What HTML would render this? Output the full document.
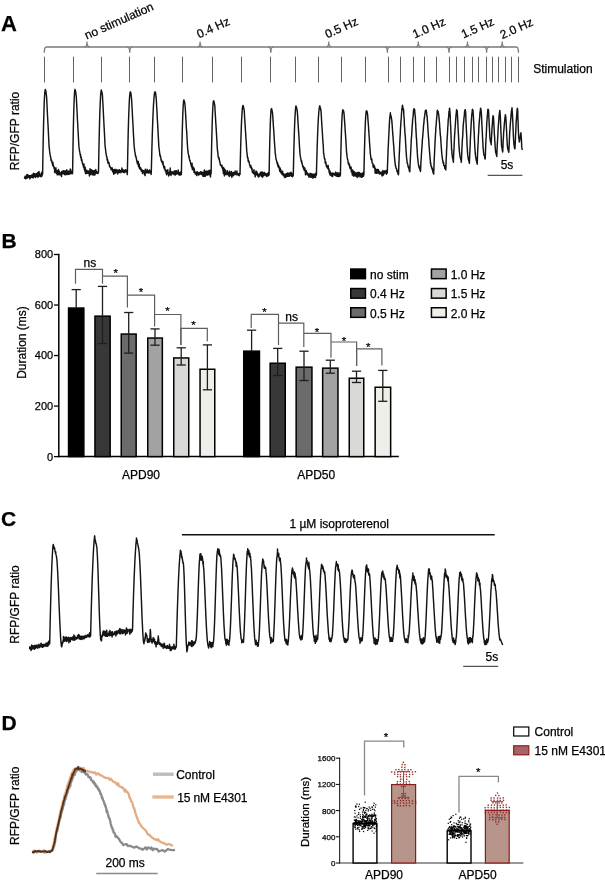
<!DOCTYPE html>
<html><head><meta charset="utf-8"><title>Figure</title>
<style>
html,body{margin:0;padding:0;background:#fff;}
body{width:605px;height:881px;overflow:hidden;}
svg{display:block;font-family:"Liberation Sans", sans-serif;will-change:transform;}
text{stroke:currentColor;stroke-width:0.25px;paint-order:stroke;}
</style></head><body>
<svg width="605" height="881" viewBox="0 0 605 881">
<text x="1" y="31.1" font-size="22" text-anchor="start" font-weight="bold" fill="#000">A</text>
<path d="M44.2 52.8 C44.3 49 44.8 47 46.3 47 L516.6 47 C518 47 518.4 49 518.5 52.8" fill="none" stroke="#7a7a7a" stroke-width="1.3"/>
<path d="M129.7 52.6 C129.7 49 129.4 47.2 127.2 47" fill="none" stroke="#7a7a7a" stroke-width="1.2"/>
<path d="M129.7 52.6 C129.7 49 130 47.2 132.2 47" fill="none" stroke="#7a7a7a" stroke-width="1.2"/>
<path d="M270.8 52.6 C270.8 49 270.5 47.2 268.3 47" fill="none" stroke="#7a7a7a" stroke-width="1.2"/>
<path d="M270.8 52.6 C270.8 49 271.1 47.2 273.3 47" fill="none" stroke="#7a7a7a" stroke-width="1.2"/>
<path d="M387.4 52.6 C387.4 49 387.1 47.2 384.9 47" fill="none" stroke="#7a7a7a" stroke-width="1.2"/>
<path d="M387.4 52.6 C387.4 49 387.7 47.2 389.9 47" fill="none" stroke="#7a7a7a" stroke-width="1.2"/>
<path d="M449 52.6 C449 49 448.7 47.2 446.5 47" fill="none" stroke="#7a7a7a" stroke-width="1.2"/>
<path d="M449 52.6 C449 49 449.3 47.2 451.5 47" fill="none" stroke="#7a7a7a" stroke-width="1.2"/>
<path d="M486.6 52.6 C486.6 49 486.3 47.2 484.1 47" fill="none" stroke="#7a7a7a" stroke-width="1.2"/>
<path d="M486.6 52.6 C486.6 49 486.9 47.2 489.1 47" fill="none" stroke="#7a7a7a" stroke-width="1.2"/>
<path d="M87 41.6 C87 45 86.7 46.8 84.5 47 M87 41.6 C87 45 87.3 46.8 89.5 47" fill="none" stroke="#7a7a7a" stroke-width="1.2"/>
<path d="M200.1 41.6 C200.1 45 199.8 46.8 197.6 47 M200.1 41.6 C200.1 45 200.4 46.8 202.6 47" fill="none" stroke="#7a7a7a" stroke-width="1.2"/>
<path d="M328.8 41.6 C328.8 45 328.5 46.8 326.3 47 M328.8 41.6 C328.8 45 329.1 46.8 331.3 47" fill="none" stroke="#7a7a7a" stroke-width="1.2"/>
<path d="M418.3 41.6 C418.3 45 418 46.8 415.8 47 M418.3 41.6 C418.3 45 418.6 46.8 420.8 47" fill="none" stroke="#7a7a7a" stroke-width="1.2"/>
<path d="M467.5 41.6 C467.5 45 467.2 46.8 465 47 M467.5 41.6 C467.5 45 467.8 46.8 470 47" fill="none" stroke="#7a7a7a" stroke-width="1.2"/>
<path d="M502.2 41.6 C502.2 45 501.9 46.8 499.7 47 M502.2 41.6 C502.2 45 502.5 46.8 504.7 47" fill="none" stroke="#7a7a7a" stroke-width="1.2"/>
<line x1="44.5" y1="56.7" x2="44.5" y2="82.4" stroke="#626262" stroke-width="1"/>
<line x1="73.5" y1="56.7" x2="73.5" y2="82.4" stroke="#626262" stroke-width="1"/>
<line x1="101.5" y1="56.7" x2="101.5" y2="82.4" stroke="#626262" stroke-width="1"/>
<line x1="129.5" y1="56.7" x2="129.5" y2="82.4" stroke="#626262" stroke-width="1"/>
<line x1="154.5" y1="56.7" x2="154.5" y2="82.4" stroke="#626262" stroke-width="1"/>
<line x1="182.5" y1="56.7" x2="182.5" y2="82.4" stroke="#626262" stroke-width="1"/>
<line x1="212.5" y1="56.7" x2="212.5" y2="82.4" stroke="#626262" stroke-width="1"/>
<line x1="241.5" y1="56.7" x2="241.5" y2="82.4" stroke="#626262" stroke-width="1"/>
<line x1="270.5" y1="56.7" x2="270.5" y2="82.4" stroke="#626262" stroke-width="1"/>
<line x1="295.5" y1="56.7" x2="295.5" y2="82.4" stroke="#626262" stroke-width="1"/>
<line x1="318.5" y1="56.7" x2="318.5" y2="82.4" stroke="#626262" stroke-width="1"/>
<line x1="341.5" y1="56.7" x2="341.5" y2="82.4" stroke="#626262" stroke-width="1"/>
<line x1="365.5" y1="56.7" x2="365.5" y2="82.4" stroke="#626262" stroke-width="1"/>
<line x1="388.5" y1="56.7" x2="388.5" y2="82.4" stroke="#626262" stroke-width="1"/>
<line x1="400.5" y1="56.7" x2="400.5" y2="82.4" stroke="#626262" stroke-width="1"/>
<line x1="413.5" y1="56.7" x2="413.5" y2="82.4" stroke="#626262" stroke-width="1"/>
<line x1="424.5" y1="56.7" x2="424.5" y2="82.4" stroke="#626262" stroke-width="1"/>
<line x1="436.5" y1="56.7" x2="436.5" y2="82.4" stroke="#626262" stroke-width="1"/>
<line x1="449.5" y1="56.7" x2="449.5" y2="82.4" stroke="#626262" stroke-width="1"/>
<line x1="456.5" y1="56.7" x2="456.5" y2="82.4" stroke="#626262" stroke-width="1"/>
<line x1="464.5" y1="56.7" x2="464.5" y2="82.4" stroke="#626262" stroke-width="1"/>
<line x1="472.5" y1="56.7" x2="472.5" y2="82.4" stroke="#626262" stroke-width="1"/>
<line x1="478.5" y1="56.7" x2="478.5" y2="82.4" stroke="#626262" stroke-width="1"/>
<line x1="486.5" y1="56.7" x2="486.5" y2="82.4" stroke="#626262" stroke-width="1"/>
<line x1="492.5" y1="56.7" x2="492.5" y2="82.4" stroke="#626262" stroke-width="1"/>
<line x1="498.5" y1="56.7" x2="498.5" y2="82.4" stroke="#626262" stroke-width="1"/>
<line x1="505.5" y1="56.7" x2="505.5" y2="82.4" stroke="#626262" stroke-width="1"/>
<line x1="511.5" y1="56.7" x2="511.5" y2="82.4" stroke="#626262" stroke-width="1"/>
<line x1="518.5" y1="56.7" x2="518.5" y2="82.4" stroke="#626262" stroke-width="1"/>
<text x="86.8" y="39.6" font-size="12" text-anchor="start" font-weight="normal" fill="#000" transform="rotate(-24 86.8 39.6)">no stimulation</text>
<text x="199" y="38.4" font-size="12" text-anchor="start" font-weight="normal" fill="#000" transform="rotate(-24 199 38.4)">0.4 Hz</text>
<text x="327.2" y="38.4" font-size="12" text-anchor="start" font-weight="normal" fill="#000" transform="rotate(-24 327.2 38.4)">0.5 Hz</text>
<text x="414.8" y="38.6" font-size="12" text-anchor="start" font-weight="normal" fill="#000" transform="rotate(-24 414.8 38.6)">1.0 Hz</text>
<text x="463.4" y="38.6" font-size="12" text-anchor="start" font-weight="normal" fill="#000" transform="rotate(-24 463.4 38.6)">1.5 Hz</text>
<text x="502.3" y="39.2" font-size="12" text-anchor="start" font-weight="normal" fill="#000" transform="rotate(-24 502.3 39.2)">2.0 Hz</text>
<text x="533.2" y="72.9" font-size="12" text-anchor="start" font-weight="normal" fill="#000">Stimulation</text>
<text x="19.4" y="131" font-size="12" text-anchor="middle" font-weight="normal" fill="#000" transform="rotate(-90 19.4 131)">RFP/GFP ratio</text>
<path d="M24.4 177.15L24.6 178.16L24.8 177.12L25 176.97L25.2 176.1L25.4 177.04L25.6 178.79L25.8 177.83L26 178.62L26.2 177.52L26.4 177.68L26.6 177.36L26.8 174.83L27 178.2L27.2 177.69L27.4 177.65L27.6 174.65L27.8 174.55L28 175.67L28.2 176.2L28.4 177.21L28.6 176.7L28.8 177.43L29 175.82L29.2 177.07L29.4 177.15L29.6 175.69L29.8 178.87L30 177.27L30.2 178.1L30.4 175.61L30.6 175.41L30.8 175.91L31 176.2L31.2 177.16L31.4 176.6L31.6 175.63L31.8 174.91L32 175.46L32.2 177.78L32.4 175L32.6 176.39L32.8 176.6L33 173.98L33.2 176.02L33.4 177.68L33.6 173.16L33.8 175.41L34 175.67L34.2 174.67L34.4 176.41L34.6 175.62L34.8 173.69L35 176.75L35.2 176.5L35.4 176.84L35.6 177.48L35.8 175.98L36 175.62L36.2 173.67L36.4 176.22L36.6 174.53L36.8 174.71L37 173.58L37.2 173.94L37.4 174.5L37.6 176.92L37.8 172.4L38 173.14L38.2 175.4L38.4 176.99L38.6 175.78L38.8 172.4L39 171.53L39.2 175.38L39.4 173.87L39.6 173.32L39.8 176.11L40 176.24L40.2 174.93L40.4 175.02L40.6 175.24L40.8 176.77L41 175.42L41.2 175.25L41.4 175.25L41.6 172.36L41.8 176.17L42 175.69L42.2 175.09L42.4 171.67L42.6 174.14L42.8 162.43L43 150.61L43.2 140.79L43.4 131.8L43.6 122.85L43.8 116.14L44 109.37L44.2 103.62L44.4 99.09L44.6 95.46L44.8 92.53L45 90.93L45.2 89.55L45.3 89.43L45.5 90.55L45.7 90.69L45.9 90.86L46.1 93.04L46.3 94.86L46.5 95.71L46.7 98.63L46.9 103.16L47.1 107.17L47.3 111.14L47.5 115.74L47.7 118.58L47.9 123.31L48.1 126.12L48.3 130.18L48.5 134.76L48.7 138.97L48.9 142.87L49.1 146.45L49.3 148.17L49.5 149.97L49.7 151.93L49.9 153.34L50.1 154.72L50.3 155.86L50.5 156.23L50.7 157.79L50.9 158.47L51.1 160.56L51.3 159.83L51.5 159.94L51.7 160.78L51.9 161.89L52.1 163.52L52.3 162.88L52.5 163.98L52.7 165.74L52.9 162.23L53.1 163.98L53.3 165.77L53.5 166.48L53.7 166.81L53.9 166.44L54.1 168.45L54.3 168.48L54.5 167.93L54.7 172.45L54.9 170.08L55.1 169.23L55.3 170.23L55.5 170.44L55.7 171.04L55.9 167.83L56.1 171.14L56.3 173.32L56.5 170.54L56.7 172.19L56.9 173.72L57.1 173.75L57.3 174.77L57.5 170.62L57.7 172.6L57.9 172.78L58.1 174.06L58.3 174.68L58.5 169.57L58.7 174.64L58.9 171.2L59.1 174.06L59.3 171.11L59.5 173.34L59.7 174.7L59.9 172.87L60.1 173.31L60.3 174.11L60.5 173.21L60.7 172.88L60.9 175.06L61.1 174.38L61.3 172.56L61.5 176.64L61.7 171.37L61.9 174.14L62.1 172.53L62.3 173.05L62.5 173.8L62.7 173.13L62.9 173.68L63.1 170.74L63.3 170.75L63.5 173.6L63.7 171.45L63.9 171.35L64.1 170.73L64.3 174.41L64.5 173.69L64.7 174.65L64.9 171.38L65.1 172.63L65.3 171.08L65.5 173.63L65.7 174.73L65.9 171.36L66.1 174.65L66.3 173.86L66.5 172.27L66.7 169.83L66.9 174.38L67.1 172.33L67.3 171.63L67.5 172.97L67.7 172.97L67.9 174.42L68.1 171L68.3 173.9L68.5 174.35L68.7 174.29L68.9 172.07L69.1 171.29L69.3 173.65L69.5 172.42L69.7 172.41L69.9 174.15L70.1 171.85L70.3 169.09L70.5 171.65L70.7 169.66L70.9 173.25L71.1 172.55L71.3 171.28L71.5 172.08L71.7 173.2L71.9 172.17L72.1 173.83L72.3 171.94L72.5 173.41L72.6 172.37L72.8 159.24L73 146.65L73.2 136.17L73.4 125.75L73.6 117.37L73.8 109.71L74 104.17L74.2 98.45L74.4 94.75L74.6 91.84L74.8 90.17L75 89.36L75.2 90.22L75.4 91.36L75.6 91.19L75.8 92.8L76 94.55L76.2 95.64L76.4 98.44L76.6 102.65L76.8 107.22L77 110.06L77.2 114.31L77.4 118.68L77.6 122.33L77.8 125.75L78 129.86L78.2 133.53L78.4 136.92L78.6 140.7L78.8 144.78L79 147.18L79.2 148.35L79.4 149.99L79.6 151.43L79.8 151.71L80 153.86L80.2 153.78L80.4 156.04L80.6 154.45L80.8 157.66L81 157.58L81.2 157.2L81.4 160.39L81.6 160.28L81.8 159.31L82 161.03L82.2 162.54L82.4 162.33L82.6 163.91L82.8 164.34L83 165.03L83.2 165.08L83.4 166.99L83.6 166.63L83.8 166.9L84 164.02L84.2 168.6L84.4 169.7L84.6 167.97L84.8 168.13L85 171.78L85.2 167.19L85.4 170.59L85.6 173.63L85.8 169.4L86 171.77L86.2 173.56L86.4 171.03L86.6 172.13L86.8 172.77L87 170.51L87.2 171.79L87.4 172.48L87.6 173.38L87.8 172.23L88 172.01L88.2 170.91L88.4 171.8L88.6 173.49L88.8 172.43L89 171.15L89.2 171.17L89.4 175.91L89.6 173.85L89.8 173.18L90 168.82L90.2 173.16L90.4 172.98L90.6 174.61L90.8 172.91L91 172.25L91.2 173.05L91.4 169.72L91.6 173.75L91.8 172.8L92 171.41L92.2 174.16L92.4 174.81L92.6 170.48L92.8 171.48L93 172.78L93.2 172.63L93.4 171.85L93.6 171.08L93.8 175.26L94 173.8L94.2 170.8L94.4 170.6L94.6 174.72L94.8 173.76L95 174.88L95.2 173.52L95.4 171.26L95.6 172.79L95.8 169.53L96 171.44L96.2 172.37L96.4 173.16L96.6 171.48L96.8 172.3L97 173.09L97.2 172.98L97.4 173.34L97.6 172.76L97.8 172.05L98 173.55L98.2 172.56L98.4 171.38L98.5 172.34L98.7 161.23L98.9 150.77L99.1 141.24L99.3 132.43L99.5 124.55L99.7 117.38L99.9 110.84L100.1 105.83L100.3 101.4L100.5 97.49L100.7 94.41L100.9 92.48L101.1 90.88L101.3 89.94L101.5 91.24L101.7 91.37L101.9 92.55L102.1 93.23L102.3 94.16L102.5 96.36L102.7 100.6L102.9 103.7L103.1 107.2L103.3 111.33L103.5 115.64L103.7 119.32L103.9 122.89L104.1 127.1L104.3 130.54L104.5 134.14L104.7 138.27L104.9 142.58L105.1 145.97L105.3 147.74L105.5 148.64L105.7 150.76L105.9 153.22L106.1 153.24L106.3 155.33L106.5 155.76L106.7 156.9L106.9 156.73L107.1 159.98L107.3 159.58L107.5 159.04L107.7 160.08L107.9 163.11L108.1 161.23L108.3 162.82L108.5 163.36L108.7 162.93L108.9 162.32L109.1 163.98L109.3 164.74L109.5 166.28L109.7 166.34L109.9 165.85L110.1 167.5L110.3 167.6L110.5 167.68L110.7 168.01L110.9 168.02L111.1 169.66L111.3 167.69L111.5 168.64L111.7 169.88L111.9 168.28L112.1 169.95L112.3 167.99L112.5 169.94L112.7 171.8L112.9 171.96L113.1 171.29L113.3 171.21L113.5 169.78L113.7 174.32L113.9 172.71L114.1 173.49L114.3 170.81L114.5 171.74L114.7 169.53L114.9 173.03L115.1 173.23L115.3 169.4L115.5 171.89L115.7 172.8L115.9 169.56L116.1 169.47L116.3 170.49L116.5 171.07L116.7 170.02L116.9 171.94L117.1 172.23L117.3 172.74L117.5 172.83L117.7 173.9L117.9 173.44L118.1 170.09L118.3 171.17L118.5 170.41L118.7 170.38L118.9 171.72L119.1 171.83L119.3 172.47L119.5 169.66L119.7 170.12L119.9 171.76L120.1 171.51L120.3 171.35L120.5 171.68L120.7 170.73L120.9 172.7L121.1 172.22L121.3 171.62L121.5 170.82L121.7 171.48L121.9 168.04L122.1 170.38L122.3 171.75L122.5 169.66L122.7 171.95L122.9 171.87L123.1 169.81L123.3 171.32L123.5 171.23L123.7 172.26L123.9 172.46L124.1 171.58L124.3 170.47L124.5 171.42L124.7 171.52L124.9 172.59L125.1 171.99L125.3 170.61L125.5 169.74L125.7 171.06L125.9 170.56L126.1 170.05L126.3 171.39L126.5 170.87L126.7 171.67L126.9 172.23L127.1 170.95L127.3 174.64L127.4 171.42L127.6 161.17L127.8 151.09L128 142.25L128.2 133.05L128.4 125.88L128.6 119.32L128.8 113.35L129 108.48L129.2 103.43L129.4 99.89L129.6 96.73L129.8 94.5L130 92.88L130.2 91.96L130.3 92.1L130.5 91.97L130.7 93.38L130.9 93.01L131.1 94.88L131.3 97.15L131.5 97.73L131.7 100.93L131.9 105.18L132.1 108.52L132.3 111.98L132.5 116.11L132.7 119.84L132.9 123.5L133.1 126.51L133.3 131.18L133.5 134.95L133.7 138.08L133.9 141.98L134.1 145.29L134.3 147.74L134.5 148.6L134.7 150.87L134.9 151.88L135.1 152.62L135.3 154.74L135.5 156.14L135.7 155.77L135.9 156.01L136.1 158.11L136.3 158.1L136.5 159.19L136.7 161.04L136.9 161.45L137.1 160.73L137.3 163.74L137.5 162.14L137.7 163.29L137.9 162.44L138.1 163.43L138.3 161.56L138.5 166.83L138.7 166.79L138.9 163.84L139.1 163.98L139.3 164.35L139.5 168.66L139.7 166.98L139.9 167.94L140.1 167.98L140.3 168.63L140.5 167.71L140.7 169.59L140.9 168L141.1 170.14L141.3 170.83L141.5 171.21L141.7 170.44L141.9 169.71L142.1 171.32L142.3 170.62L142.5 173.57L142.7 172.66L142.9 171.64L143.1 171.17L143.3 170.86L143.5 170.55L143.7 171.34L143.9 172.22L144.1 172.52L144.3 172.6L144.5 174.67L144.7 170.89L144.9 171.87L145.1 175.63L145.3 169.34L145.5 171.16L145.7 172.1L145.9 172.08L146.1 172.43L146.3 171.56L146.5 172.38L146.7 171.96L146.9 172.94L147.1 169.35L147.3 170.71L147.5 171.91L147.7 170.52L147.9 170.51L148.1 172.77L148.3 171.05L148.5 172.79L148.7 172.94L148.9 172.36L149.1 172.63L149.3 171.81L149.5 170.05L149.7 171.92L149.9 172.58L150.1 171.26L150.3 171.84L150.5 172.99L150.7 170.8L150.9 172.85L151.1 174.51L151.3 171.25L151.3 172.04L151.5 163.54L151.7 156L151.9 148.21L152.1 141.33L152.3 134.38L152.5 128.46L152.7 122.85L152.9 117.26L153.1 113.38L153.3 109.03L153.5 104.63L153.7 101.97L153.9 98.95L154.1 96.75L154.3 94.86L154.5 92.99L154.7 92.37L154.9 92.33L155 91.67L155.2 92L155.4 92.37L155.6 92.94L155.8 94.93L156 97L156.2 98.03L156.4 101.08L156.6 105.7L156.8 108.41L157 112.17L157.2 116.38L157.4 120.01L157.6 123.02L157.8 126.59L158 130.86L158.2 134.67L158.4 137.87L158.6 142.14L158.8 145.62L159 147.74L159.2 149.24L159.4 150.98L159.6 152.42L159.8 154.63L160 155.79L160.2 155.06L160.4 157.01L160.6 156.4L160.8 157.92L161 159.3L161.2 160.76L161.4 159.83L161.6 160.88L161.8 161.89L162 160.86L162.2 162.68L162.4 162.51L162.6 163.9L162.8 163L163 161.81L163.2 165.03L163.4 165.87L163.6 165.31L163.8 167.79L164 166.76L164.2 166.85L164.4 168.85L164.6 166.51L164.8 168.1L165 169.38L165.2 170.95L165.4 169.97L165.6 171L165.8 169.99L166 171.46L166.2 173.48L166.4 170.48L166.6 174.78L166.8 170.9L167 171.97L167.2 172.36L167.4 173.68L167.6 170.81L167.8 169.65L168 173.31L168.2 173.57L168.4 173.35L168.6 176.07L168.8 172.8L169 172.87L169.2 173.79L169.4 173.04L169.6 174.8L169.8 170.89L170 172.06L170.2 167.93L170.4 173.68L170.6 172.09L170.8 173.85L171 175.51L171.2 172.61L171.4 172.28L171.6 171.95L171.8 171.51L172 171.79L172.2 173.51L172.4 172.71L172.6 172.76L172.8 172.44L173 173.92L173.2 173.36L173.4 172.51L173.6 173.6L173.8 172.51L174 171.16L174.2 174.69L174.4 173.36L174.6 171.45L174.8 174.21L175 173.22L175.2 170.65L175.4 174.95L175.6 173.23L175.8 173.99L176 173.06L176.2 172.6L176.4 170.72L176.6 174.13L176.8 172.87L177 172.45L177.2 173.31L177.4 172.95L177.6 173.77L177.8 172.36L178 172.82L178.2 169.99L178.4 172.31L178.6 173.81L178.8 174.71L179 172.42L179.2 172.75L179.4 175.06L179.6 172.49L179.8 173.93L180 175.21L180.2 173.01L180.4 174.62L180.6 172.01L180.8 173.26L181 172.88L181.2 173.15L181.4 174.53L181.4 173.6L181.6 161.65L181.8 151.42L182 142.37L182.2 133.6L182.4 126.53L182.6 120.03L182.8 114.22L183 109.77L183.2 105.52L183.4 103.3L183.6 100.86L183.8 100.14L183.9 99.98L184.1 100.5L184.3 101.47L184.5 101.62L184.7 102.68L184.9 104.44L185.1 106.24L185.3 108.46L185.5 112.07L185.7 115.89L185.9 118.97L186.1 121.73L186.3 126.54L186.5 129.72L186.7 131.34L186.9 135.47L187.1 139.12L187.3 142.81L187.5 146.17L187.7 149.07L187.9 150.32L188.1 152.35L188.3 154.28L188.5 154.46L188.7 155.36L188.9 157.04L189.1 156.09L189.3 158.38L189.5 158.98L189.7 160.48L189.9 160.14L190.1 160.67L190.3 161.81L190.5 162.82L190.7 162.96L190.9 164.01L191.1 165.09L191.3 165.89L191.5 166.76L191.7 164.93L191.9 165.48L192.1 163.15L192.3 169.55L192.5 166.49L192.7 167.91L192.9 169.14L193.1 167.09L193.3 170.03L193.5 169.75L193.7 167.67L193.9 170.88L194.1 172.45L194.3 168.67L194.5 172.63L194.7 172.09L194.9 172.61L195.1 172.72L195.3 174.04L195.5 172.14L195.7 173.78L195.9 172.2L196.1 173.9L196.3 171.97L196.5 173.09L196.7 175.57L196.9 173.84L197.1 173.03L197.3 171.7L197.5 172.18L197.7 173.52L197.9 174.53L198.1 173.84L198.3 173.97L198.5 173.21L198.7 175.1L198.9 172.75L199.1 172.54L199.3 174.48L199.5 173.37L199.7 172.91L199.9 172.52L200.1 172.95L200.3 174.14L200.5 173.78L200.7 171.68L200.9 173.89L201.1 173.56L201.3 171.97L201.5 174.37L201.7 172.95L201.9 172.88L202.1 174.41L202.3 175.12L202.5 172.41L202.7 173.94L202.9 172.17L203.1 176.48L203.3 172.69L203.5 174.97L203.7 172.49L203.9 174.46L204.1 176.37L204.3 169.94L204.5 172.79L204.7 174.06L204.9 173.26L205.1 172.49L205.3 176.3L205.5 173.5L205.7 171.18L205.9 174.56L206.1 171.08L206.3 174.97L206.5 172.64L206.7 173.61L206.9 175.13L207.1 173.59L207.3 171.55L207.5 171.14L207.7 175.03L207.9 174.44L208.1 172.34L208.3 174.61L208.5 174.12L208.7 174.33L208.9 170.41L209.1 173.06L209.3 174.68L209.5 174.46L209.7 174.66L209.9 170.16L210.1 173.71L210.3 174.15L210.5 176.93L210.7 172.21L210.9 173.05L211.1 173.55L211.1 173.72L211.3 162.21L211.5 152.35L211.7 142.55L211.9 134.43L212.1 126.78L212.3 120.42L212.5 114.62L212.7 109.74L212.9 106.68L213.1 103.69L213.3 101.61L213.5 100.87L213.6 101.1L213.8 100.77L214 101.58L214.2 102.3L214.4 103.55L214.6 104.59L214.8 105.27L215 109.45L215.2 112.55L215.4 115.9L215.6 119.25L215.8 122.85L216 125.87L216.2 128.93L216.4 132.34L216.6 135.74L216.8 139.21L217 142.46L217.2 146.65L217.4 149.16L217.6 151.51L217.8 152.4L218 154.51L218.2 157.17L218.4 156.97L218.6 156.91L218.8 158.38L219 159.25L219.2 158.31L219.4 160.03L219.6 161.42L219.8 161.55L220 162.74L220.2 164.02L220.4 164.75L220.6 165.32L220.8 165.44L221 165.06L221.2 165.71L221.4 165.9L221.6 166.13L221.8 166.76L222 165.16L222.2 167.52L222.4 168.42L222.6 167.62L222.8 169.39L223 170.6L223.2 170.07L223.4 173.45L223.6 167.48L223.8 171.07L224 169.23L224.2 173.37L224.4 175.9L224.6 169.09L224.8 172.8L225 173.49L225.2 172.54L225.4 173.85L225.6 170.24L225.8 174.57L226 174.08L226.2 173.77L226.4 172.95L226.6 174.61L226.8 173.09L227 174.06L227.2 173.07L227.4 170.73L227.6 173.72L227.8 174.04L228 174.79L228.2 172.59L228.4 173.74L228.6 174.62L228.8 173.98L229 175.47L229.2 176.48L229.4 172.57L229.6 171.21L229.8 174.96L230 175.88L230.2 175.06L230.4 174.92L230.6 172.99L230.8 172.86L231 175.03L231.2 172.6L231.4 171.39L231.6 172.49L231.8 177.21L232 176.45L232.2 172.93L232.4 172.87L232.6 174.17L232.8 172.85L233 175.64L233.2 173.77L233.4 172.41L233.6 175.65L233.8 173.1L234 174.19L234.2 173.87L234.4 173.47L234.6 174.34L234.8 172.97L235 171.42L235.2 170.93L235.4 172.2L235.6 172.89L235.8 173.89L236 174L236.2 174.68L236.4 174.09L236.6 172.86L236.8 172.98L237 171.08L237.2 173.72L237.4 174.61L237.6 174.67L237.8 173.79L238 173.73L238.2 175.23L238.4 173.99L238.6 174.97L238.8 174.76L239 174.27L239.2 175.75L239.4 173.22L239.6 173.51L239.8 172.91L240 172.92L240 174.39L240.2 165.62L240.4 156.98L240.6 149.52L240.8 142.68L241 136.2L241.2 130.53L241.4 124.74L241.6 120.34L241.8 116.66L242 113.56L242.2 110.49L242.4 108.12L242.6 106.73L242.8 105.74L243 105.39L243 106.2L243.2 105.78L243.4 106.48L243.6 107.77L243.8 108.55L244 109.51L244.2 110.44L244.4 113.52L244.6 117.26L244.8 120.12L245 123.64L245.2 126.35L245.4 129.62L245.6 132.43L245.8 135.78L246 139.27L246.2 141.44L246.4 145.25L246.6 148.64L246.8 151.4L247 152.97L247.2 154.88L247.4 156.83L247.6 158.07L247.8 158.6L248 157.64L248.2 161.5L248.4 160.56L248.6 161.17L248.8 160.85L249 162.47L249.2 162.19L249.4 163.89L249.6 164.9L249.8 165.17L250 165.81L250.2 165.18L250.4 167.61L250.6 166.12L250.8 165.46L251 167.23L251.2 166.87L251.4 167L251.6 168.34L251.8 169.66L252 168.13L252.2 170L252.4 172.56L252.6 171.92L252.8 171.12L253 171.83L253.2 171.83L253.4 172.26L253.6 173.64L253.8 172.78L254 169.8L254.2 173.17L254.4 172.15L254.6 174.38L254.8 172.82L255 173.99L255.2 176.88L255.4 172.68L255.6 172.72L255.8 172.34L256 171.02L256.2 171.72L256.4 174.75L256.6 173.4L256.8 171.74L257 172.27L257.2 175.11L257.4 173.23L257.6 173.78L257.8 174.73L258 176.12L258.2 176.91L258.4 175.69L258.6 174.49L258.8 174.55L259 176.74L259.2 176.24L259.4 173.89L259.6 174.94L259.8 174.71L260 174.4L260.2 173.65L260.4 172.54L260.6 173.62L260.8 172.26L261 176L261.2 175.07L261.4 172.72L261.6 176.24L261.8 175.56L262 171.79L262.2 176.85L262.4 175.47L262.6 177.16L262.8 172.72L263 175.1L263.2 174.96L263.4 174.66L263.6 174.63L263.8 175.82L264 172.38L264.2 172.73L264.4 172.53L264.6 173.66L264.8 173.6L265 174.92L265.2 174.79L265.4 174.47L265.6 173.52L265.8 173.84L266 175.73L266.2 175.48L266.4 174.58L266.6 174.02L266.8 176.55L267 173.66L267.2 175.34L267.4 176.02L267.6 174.11L267.8 175.59L268 172.97L268.2 175.85L268.4 174.76L268.6 172.35L268.8 175.4L269 173.29L269.1 174.82L269.3 163.42L269.5 153.63L269.7 144.81L269.9 136.72L270.1 129.92L270.3 123.77L270.5 119.11L270.7 114.98L270.9 112.05L271.1 109.33L271.3 109.31L271.4 108.91L271.6 108.6L271.8 109.77L272 110.34L272.2 111.7L272.4 112.09L272.6 114.39L272.8 116.27L273 120.42L273.2 122.53L273.4 125.99L273.6 128.62L273.8 131.29L274 135.15L274.2 138.05L274.4 141.32L274.6 144.17L274.8 146.73L275 149.43L275.2 152.79L275.4 154.19L275.6 155.55L275.8 157.52L276 158.99L276.2 159.22L276.4 160.32L276.6 160.73L276.8 161.75L277 162.93L277.2 163.74L277.4 162.89L277.6 162.78L277.8 166.05L278 165.5L278.2 167.02L278.4 164.95L278.6 166.5L278.8 167.19L279 166.24L279.2 167.44L279.4 169.26L279.6 170.14L279.8 171.28L280 168.4L280.2 168.11L280.4 171.14L280.6 172.15L280.8 171.58L281 169.91L281.2 173.04L281.4 173.37L281.6 173.36L281.8 172.28L282 173.66L282.2 174.56L282.4 172.88L282.6 171.29L282.8 174.37L283 174.72L283.2 174.23L283.4 175.56L283.6 173.71L283.8 174.53L284 174.38L284.2 175.56L284.4 176.95L284.6 174.46L284.8 177.58L285 176.87L285.2 175.88L285.4 175.61L285.6 177.21L285.8 174.59L286 174.68L286.2 173.4L286.4 175.48L286.6 176.66L286.8 175.57L287 175.43L287.2 174.59L287.4 175.09L287.6 172.95L287.8 176.29L288 174.33L288.2 173.39L288.4 173.87L288.6 173.78L288.8 176.05L289 176.33L289.2 173.07L289.4 176.16L289.6 176.11L289.8 174.14L290 172.92L290.2 173.92L290.4 174.08L290.6 175.4L290.8 174.46L291 172.21L291.2 175.27L291.4 172.89L291.6 176.18L291.8 173.34L292 174.03L292.2 173.82L292.4 174.25L292.6 176.74L292.8 176.14L293 175.81L293.2 175.43L293.3 174.61L293.5 165.39L293.7 156.61L293.9 148.43L294.1 141.43L294.3 134.45L294.5 128.49L294.7 123.14L294.9 118.32L295.1 115.12L295.3 112.15L295.5 109.4L295.7 107.36L295.9 105.87L296.1 106.24L296.1 106.69L296.3 106.76L296.5 107.44L296.7 108.1L296.9 109.14L297.1 109.82L297.3 111.73L297.5 114.31L297.7 116.66L297.9 120.39L298.1 123.26L298.3 126.98L298.5 130.36L298.7 132.82L298.9 135.54L299.1 140.04L299.3 142.95L299.5 146.66L299.7 148.82L299.9 152.87L300.1 154.75L300.3 156.19L300.5 156.78L300.7 158.58L300.9 159L301.1 160.77L301.3 161.53L301.5 161.41L301.7 160.82L301.9 163.36L302.1 162.93L302.3 164.57L302.5 164.9L302.7 166.78L302.9 167L303.1 165.98L303.3 167.09L303.5 168.74L303.7 167.05L303.9 168.31L304.1 169.91L304.3 170.42L304.5 169.88L304.7 167.85L304.9 168.38L305.1 170.87L305.3 171.52L305.5 174.89L305.7 170.64L305.9 173.67L306.1 173.5L306.3 170.53L306.5 172.01L306.7 173.67L306.9 173.02L307.1 173.63L307.3 174.62L307.5 173.03L307.7 174.9L307.9 173.56L308.1 173.83L308.3 175.43L308.5 174.08L308.7 175.39L308.9 177.16L309.1 175.04L309.3 174.8L309.5 175.99L309.7 174.51L309.9 176.46L310.1 173.27L310.3 175.84L310.5 174.31L310.7 173.92L310.9 177.39L311.1 173.85L311.3 177.37L311.5 175.89L311.7 176.96L311.9 173.68L312.1 176.62L312.3 176.97L312.5 174.84L312.7 174.83L312.9 178.32L313.1 175.24L313.3 174.43L313.5 174.15L313.7 175.6L313.9 175.45L314.1 175.24L314.3 177.32L314.5 174.56L314.7 175.64L314.9 176.97L315.1 173.64L315.3 176.4L315.5 177.47L315.7 173.17L315.9 173.52L316.1 173.6L316.3 172.51L316.4 175.11L316.6 166.7L316.8 159.93L317 153.29L317.2 146.11L317.4 140.5L317.6 134.64L317.8 130.33L318 125.44L318.2 121.53L318.4 118.04L318.6 115.08L318.8 112.25L319 110.2L319.2 108.4L319.4 107.38L319.6 106.34L319.8 106.42L319.8 105.63L320 106.64L320.2 108.04L320.4 107.74L320.6 108.38L320.8 110.29L321 111.11L321.2 113.51L321.4 117.15L321.6 121L321.8 124.13L322 127.12L322.2 129.89L322.4 132.93L322.6 137.01L322.8 139.72L323 142.51L323.2 145.31L323.4 148.87L323.6 153.5L323.8 153.52L324 155.42L324.2 157L324.4 158.25L324.6 158.94L324.8 158.68L325 159.7L325.2 162.89L325.4 161.4L325.6 163.49L325.8 161.86L326 163.79L326.2 164.93L326.4 166.28L326.6 164.99L326.8 166.95L327 167.14L327.2 166.51L327.4 167.99L327.6 167.13L327.8 167.25L328 168.72L328.2 165.53L328.4 169.5L328.6 168.75L328.8 168.58L329 170.43L329.2 172.49L329.4 171.27L329.6 173.85L329.8 170.9L330 171.02L330.2 175.22L330.4 173.99L330.6 174.97L330.8 172.72L331 175.07L331.2 174.48L331.4 175.15L331.6 174.45L331.8 176.19L332 173.83L332.2 173.55L332.4 173.01L332.6 176.57L332.8 174L333 173.59L333.2 173.73L333.4 174.4L333.6 173.28L333.8 174.61L334 174.15L334.2 174.26L334.4 173.7L334.6 175.05L334.8 174.38L335 175.16L335.2 175.34L335.4 175.46L335.6 172.04L335.8 174.28L336 173.93L336.2 176.05L336.4 172.87L336.6 174.04L336.8 174.6L337 174.55L337.2 176.34L337.4 174.4L337.6 176.3L337.8 173.02L338 172.55L338.2 176.65L338.4 175.59L338.6 175.66L338.8 175.17L339 175.65L339.2 173.36L339.4 176.28L339.6 174.28L339.8 176.33L340 175.12L340.2 172.34L340.4 173.26L340.4 175.28L340.6 164.89L340.8 155.59L341 147.35L341.2 139.63L341.4 132.88L341.6 127.16L341.8 122.14L342 118.28L342.2 114.55L342.4 112.49L342.6 110.8L342.8 109.93L342.9 109.82L343.1 109.87L343.3 110.29L343.5 110.59L343.7 111.48L343.9 113L344.1 114.02L344.3 117.49L344.5 120.17L344.7 122.9L344.9 125.44L345.1 129.23L345.3 132.05L345.5 134.75L345.7 137.7L345.9 140.27L346.1 144.52L346.3 147.39L346.5 151.57L346.7 153.48L346.9 154.84L347.1 156.88L347.3 157.76L347.5 159.27L347.7 159.55L347.9 160.03L348.1 162.62L348.3 162.86L348.5 164.19L348.7 162.96L348.9 163.92L349.1 163.73L349.3 166.01L349.5 164.52L349.7 166.9L349.9 167.78L350.1 168.43L350.3 166.67L350.5 168.86L350.7 167.61L350.9 167.59L351.1 167.23L351.3 171.01L351.5 172.11L351.7 169.51L351.9 169.72L352.1 170.72L352.3 175L352.5 173.31L352.7 171.53L352.9 170.16L353.1 171.98L353.3 174.81L353.5 176.04L353.7 173.39L353.9 172.96L354.1 173.34L354.3 171.62L354.5 175.53L354.7 172.98L354.9 176.02L355.1 172.42L355.3 173.15L355.5 175.39L355.7 173.97L355.9 176.05L356.1 175.01L356.3 173.41L356.5 175.84L356.7 176.14L356.9 172.42L357.1 177.47L357.3 175.67L357.5 176.03L357.7 172.49L357.9 174.03L358.1 174.53L358.3 176.45L358.5 173.03L358.7 173.81L358.9 172.26L359.1 174.67L359.3 175.47L359.5 172.72L359.7 174.2L359.9 175.69L360.1 177.14L360.3 175.9L360.5 174.59L360.7 173.41L360.9 173.74L361.1 174.1L361.3 175.2L361.5 174.93L361.7 177.25L361.9 175.39L362.1 173.55L362.3 177.08L362.5 176.28L362.7 175.14L362.9 174.03L363.1 172.47L363.3 173.62L363.5 176.23L363.7 173.92L363.9 173.22L363.9 175.05L364.1 165.53L364.3 156.86L364.5 148.87L364.7 141.82L364.9 134.78L365.1 129.52L365.3 124.07L365.5 120.3L365.7 116.74L365.9 114.09L366.1 112.37L366.3 110.98L366.5 110.88L366.5 110.95L366.7 111.06L366.9 111.19L367.1 111.52L367.3 112.72L367.5 114.07L367.7 115.36L367.9 119.07L368.1 121.18L368.3 124.29L368.5 126.68L368.7 129.71L368.9 132.75L369.1 135.84L369.3 138.24L369.5 142.22L369.7 144.38L369.9 148.07L370.1 149.73L370.3 153.51L370.5 154.98L370.7 156.29L370.9 157.8L371.1 159.16L371.3 159.77L371.5 158.57L371.7 160.29L371.9 159.47L372.1 162.78L372.3 163.07L372.5 163.2L372.7 163.22L372.9 164.02L373.1 166.78L373.3 167.26L373.5 166.01L373.7 167.54L373.9 165.28L374.1 165.3L374.3 166.93L374.5 166.51L374.7 167.3L374.9 168.7L375.1 172.92L375.3 168.33L375.5 169.68L375.7 170.37L375.9 170.34L376.1 171.95L376.3 173.36L376.5 169.56L376.7 171.72L376.9 171.42L377.1 172.53L377.3 170.18L377.5 169.98L377.7 169.33L377.9 173.27L378.1 172.92L378.3 172.87L378.5 169.68L378.7 172.47L378.9 172.06L379.1 171.27L379.3 171.92L379.5 174.07L379.7 173.83L379.9 173.04L380.1 173.73L380.3 172.19L380.5 173.08L380.7 173.01L380.9 173.67L381.1 172.8L381.3 172.67L381.5 172.65L381.7 171.94L381.9 175.79L382.1 173.44L382.3 173.3L382.5 175.79L382.7 174.56L382.9 170.53L383.1 173.54L383.3 173.71L383.5 175.09L383.7 174.3L383.9 173.53L384.1 170.87L384.3 171.26L384.5 172.77L384.7 173.06L384.9 170.97L385.1 171.8L385.3 171.75L385.5 172.34L385.7 172.68L385.9 171.81L386.1 170.5L386.3 173.82L386.5 174.27L386.7 171.94L386.9 173.44L387.1 172.63L387.3 172.89L387.3 172.36L387.5 165.37L387.7 160.62L387.9 155.49L388.1 148.92L388.3 146.22L388.5 141.77L388.7 137.34L388.9 133.53L389.1 128.97L389.3 124.84L389.5 121.62L389.7 118.75L389.9 117.03L390.1 114.81L390.2 114.4L390.4 112.75L390.6 116.37L390.8 116.71L391 115.47L391.2 117.1L391.4 118.05L391.6 119L391.8 120.29L392 123.11L392.2 125.33L392.4 128.83L392.6 131.43L392.8 134.41L393 136.14L393.2 139.42L393.4 142.04L393.6 145.07L393.8 146.45L394 150.31L394.2 153.48L394.4 155.94L394.6 157.97L394.8 160.6L395 162.03L395.2 163.99L395.4 165.85L395.6 165.8L395.8 166.68L396 168.11L396.2 168.59L396.4 168.37L396.6 169.11L396.8 170.2L397 171.38L397.2 170.53L397.4 171.21L397.6 172.9L397.8 172.16L398 173.71L398.2 174.44L398.4 174.64L398.5 174.24L398.7 169.4L398.9 163.85L399.1 159.22L399.3 153.42L399.5 150.15L399.7 143.58L399.9 140.42L400.1 136.48L400.3 133.33L400.5 128.5L400.7 125.93L400.9 121.86L401.1 119.82L401.3 117.76L401.5 113.57L401.7 111.81L401.9 108.61L402.1 108.08L402.3 106.51L402.3 105.63L402.5 105.19L402.7 106.78L402.9 107.78L403.1 108.65L403.3 109.76L403.5 109.09L403.7 111.42L403.9 116.29L404.1 117.6L404.3 122.66L404.5 126.51L404.7 128.89L404.9 132.29L405.1 134.32L405.3 136.78L405.5 140.75L405.7 143.95L405.9 147.35L406.1 151.2L406.3 153.86L406.5 156.99L406.7 158.65L406.9 159.81L407.1 162.67L407.3 163.1L407.5 163.86L407.7 164.37L407.9 164.79L408.1 167L408.3 166.83L408.5 166.61L408.7 167.66L408.9 168.63L409.1 169.06L409.3 170.87L409.5 169.84L409.7 171.74L409.8 171.81L410 166.15L410.2 162.57L410.4 158.12L410.6 154.4L410.8 149.68L411 146.4L411.2 141.24L411.4 138.16L411.6 136.21L411.8 133.22L412 129.4L412.2 126.11L412.4 124.67L412.6 119.76L412.8 118.37L413 117.27L413.2 115.22L413.4 112.09L413.6 109.74L413.8 110.7L413.9 109.01L414.1 108.7L414.3 109.89L414.5 111L414.7 109.76L414.9 113.95L415.1 115.1L415.3 116.34L415.5 122.03L415.7 123.68L415.9 129.42L416.1 132.27L416.3 137.03L416.5 138.26L416.7 142.1L416.9 146.4L417.1 148.69L417.3 152.2L417.5 156L417.7 158.37L417.9 159.21L418.1 161.98L418.3 163.63L418.5 164.34L418.7 166.35L418.9 165.62L419.1 167.63L419.3 167.02L419.5 168.71L419.7 167.41L419.9 169.72L420.1 170.15L420.3 170.62L420.5 171.24L420.5 171.44L420.7 167.38L420.9 162.6L421.1 160.23L421.3 156.81L421.5 153.48L421.7 149.84L421.9 147.4L422.1 145.07L422.3 141.38L422.5 138.4L422.7 137.09L422.9 134.22L423.1 131.71L423.3 129.51L423.5 126.14L423.7 124.14L423.9 123.03L424.1 119.85L424.3 118.36L424.5 117.02L424.7 115.41L424.9 113.43L425.1 112.98L425.3 110.84L425.5 110.34L425.5 110.6L425.7 110.68L425.9 111.12L426.1 110.09L426.3 110.53L426.5 112.21L426.7 114.19L426.9 116.11L427.1 115.98L427.3 120.02L427.5 122.05L427.7 125.04L427.9 128.28L428.1 131.85L428.3 134.24L428.5 137.72L428.7 138.85L428.9 143L429.1 145.84L429.3 148.09L429.5 151.29L429.7 153.41L429.9 155.91L430.1 158.86L430.3 159.98L430.5 163.94L430.7 162.71L430.9 165.61L431.1 165.67L431.3 166.4L431.5 167.36L431.7 166.86L431.9 168.78L432.1 169.02L432.3 168.21L432.5 170.37L432.7 170.92L432.9 171.42L433.1 172.85L433.3 171.93L433.5 173.2L433.7 173.96L433.7 172.72L433.9 169.2L434.1 162.32L434.3 157.74L434.5 154.61L434.7 149.1L434.9 145.73L435.1 140.69L435.3 138.27L435.5 133.87L435.7 131.67L435.9 127.17L436.1 125.75L436.3 122.51L436.5 120.25L436.7 117.85L436.9 115.89L437.1 112.9L437.3 110.26L437.4 111.43L437.6 111.05L437.8 111.75L438 112.76L438.2 111.39L438.4 113.35L438.6 114.5L438.8 115.21L439 117.68L439.2 119.93L439.4 122.03L439.6 124.51L439.8 128.46L440 129.96L440.2 133.36L440.4 135.74L440.6 136.46L440.8 139.54L441 142.83L441.2 145.68L441.4 148.61L441.6 151.24L441.8 154.02L442 155.57L442.2 157.24L442.4 159.15L442.6 159.42L442.8 161.71L443 160.89L443.2 163.41L443.4 163.37L443.6 162.6L443.8 165.39L444 165.47L444.2 165.83L444.4 165.54L444.6 166.52L444.8 168.53L445 167.29L445.2 165.83L445.4 168.32L445.6 168.58L445.8 169.9L445.8 169.71L446 164.16L446.2 159.26L446.4 155.94L446.6 149.53L446.8 147.75L447 141.76L447.2 137.43L447.4 135.14L447.6 131.47L447.8 126.98L448 125.24L448.2 120.42L448.4 118.44L448.6 117.51L448.8 114.22L449 111.39L449.2 110.92L449.4 109.59L449.4 108.88L449.6 108.2L449.8 110.16L450 112.71L450.2 115.86L450.4 121.61L450.6 124.98L450.8 129.53L451 134.56L451.2 140.28L451.4 143.61L451.6 150.24L451.8 149.63L452 154.51L452.2 155.11L452.4 157.06L452.6 158.33L452.8 157.95L453 159.76L453.2 160.99L453.4 162.24L453.4 161.1L453.6 156.21L453.8 150.88L454 149.81L454.2 143.58L454.4 139.58L454.6 134.88L454.8 133.17L455 128.76L455.2 127.15L455.4 123.84L455.6 120.57L455.8 118.67L456 115.08L456.2 113.68L456.4 111.72L456.6 109.65L456.6 110.61L456.8 111.03L457 112.76L457.2 110.61L457.4 114.25L457.6 117.31L457.8 121.72L458 126.46L458.2 130.35L458.4 133.94L458.6 137.43L458.8 142.2L459 146.17L459.2 148.59L459.4 151.64L459.6 152.63L459.8 154.52L460 156.42L460.2 157.26L460.4 158.21L460.6 158.29L460.8 159.61L461 159.89L461.2 161.68L461.3 162.32L461.5 158.74L461.7 154.18L461.9 148.61L462.1 145.02L462.3 140.99L462.5 138.43L462.7 136.37L462.9 132.27L463.1 127.13L463.3 125.04L463.5 122.4L463.7 121.32L463.9 118.67L464.1 116.81L464.3 116.01L464.5 112.32L464.7 110.75L464.9 111.47L464.9 110.26L465.1 110.01L465.3 109.66L465.5 111.73L465.7 112.81L465.9 118.73L466.1 123.15L466.3 128.29L466.5 131.66L466.7 135.46L466.9 139.71L467.1 146.14L467.3 147.83L467.5 152.41L467.7 154.3L467.9 156.74L468.1 157.19L468.3 158.86L468.5 160.08L468.7 160.28L468.9 160.94L469.1 162.03L469.3 162.33L469.4 163.34L469.6 157.77L469.8 152.91L470 148.78L470.2 144.05L470.4 138.29L470.6 134.91L470.8 130.77L471 127.48L471.2 123.55L471.4 120.63L471.6 117.24L471.8 114.43L472 113.36L472.2 111.65L472.4 109.4L472.4 109.23L472.6 109.67L472.8 109.71L473 110.18L473.2 113.73L473.4 116.56L473.6 120.28L473.8 124.26L474 130.1L474.2 131.86L474.4 138.61L474.6 141.98L474.8 147.57L475 149.54L475.2 152.68L475.4 154.25L475.6 156.67L475.8 157.59L476 158.14L476.2 160.46L476.4 159.98L476.6 161.05L476.8 162.7L477 162.74L477.2 163.67L477.2 164.27L477.4 158.6L477.6 153.03L477.8 149.21L478 144.67L478.2 141.89L478.4 135.78L478.6 133.56L478.8 128.69L479 125.69L479.2 122.61L479.4 120.18L479.6 117.98L479.8 116.22L480 112.23L480.2 111.73L480.4 109.74L480.5 108.81L480.7 108.17L480.9 109.96L481.1 110.65L481.3 112.63L481.5 115.41L481.7 120.19L481.9 124.61L482.1 128.54L482.3 131.41L482.5 136.18L482.7 140.58L482.9 142.87L483.1 148.75L483.3 148.51L483.5 151.76L483.7 153.54L483.9 155.12L484.1 155.12L484.3 155.46L484.5 156.05L484.7 156.52L484.9 158.85L485.1 158.91L485.2 158.96L485.4 154.41L485.6 148.23L485.8 143.55L486 138.9L486.2 136.13L486.4 131.93L486.6 126.93L486.8 122.38L487 120.56L487.2 117.48L487.4 115.06L487.6 112.87L487.8 110.14L488 109.29L488 109.23L488.2 109.31L488.4 109.98L488.6 111.7L488.8 116.72L489 119.5L489.2 124.15L489.4 127.66L489.6 131.32L489.8 136.65L490 138.04L490.2 139.79L490.4 141.34L490.6 140.49L490.8 142.39L491 143.49L491.2 144.72L491.2 143.29L491.4 140.05L491.6 135.48L491.8 132.5L492 128.88L492.2 125.36L492.4 123.86L492.6 119.92L492.8 117.65L493 116.14L493 115.69L493.2 116.9L493.4 116.3L493.6 119.22L493.8 122.33L494 126.69L494.2 129.59L494.4 134.63L494.6 136.83L494.8 141.11L495 143.74L495.2 147.48L495.4 149.22L495.6 152.56L495.8 152.73L496 152.4L496.2 154.43L496.4 155.18L496.6 155.44L496.8 156.42L496.8 156.18L497 151.26L497.2 145.85L497.4 142.81L497.6 139.79L497.8 136.11L498 131.3L498.2 127.64L498.4 124.95L498.6 122.92L498.8 119.92L499 116.87L499.2 115.44L499.4 113.13L499.6 112.01L499.7 110.6L499.9 110.5L500.1 113.11L500.3 116.34L500.5 120.02L500.7 125.7L500.9 131.21L501.1 135.22L501.3 140.06L501.5 145.15L501.7 146.54L501.9 147.98L502.1 147.66L502.3 150.58L502.5 149.18L502.7 151.02L502.7 151.94L502.9 148.15L503.1 142.52L503.3 138.96L503.5 136.08L503.7 131.25L503.9 130.09L504.1 127.23L504.3 123.94L504.5 122.33L504.7 120.41L504.9 118.22L505.1 116.76L505.3 116.1L505.3 114.65L505.5 115.65L505.7 116.09L505.9 118.82L506.1 121.2L506.3 125.82L506.5 129.43L506.7 133.16L506.9 138.24L507.1 140.91L507.3 145.31L507.5 146.67L507.7 148.68L507.9 148.48L508.1 150.16L508.3 150.86L508.5 150.66L508.7 152.1L508.8 152.21L509 147.86L509.2 144.62L509.4 139.16L509.6 134.69L509.8 131.08L510 128.67L510.2 125.4L510.4 122.95L510.6 120.65L510.8 119.02L511 115.69L511.2 113.74L511.4 111.02L511.6 110.34L511.8 109.48L511.8 109.47L512 107.72L512.2 111.09L512.4 113.64L512.6 117.88L512.8 120.96L513 126.37L513.2 131.59L513.4 136.25L513.6 139.79L513.8 141.88L514 145.19L514.2 144.6L514.4 147.66L514.6 147.6L514.8 148.76L515 148.54L515.2 143.71L515.4 139.63L515.6 133.39L515.8 131.62L516 125.12L516.2 121.6L516.4 119.2L516.6 116.55L516.8 114.11L517 111.02L517.2 109.2L517.3 108.33L517.5 108.85L517.7 109.68L517.9 117.86L518.1 122.91L518.3 128.38L518.5 133.55L518.7 137.06L518.9 138.72L519.1 139.95L519.3 141.95L519.5 141.06L519.7 140.57L519.9 137.91L520.1 136.95L520.3 136.95L520.5 134L520.7 133.82L520.9 132.77L521.1 134.9L521.3 137.21L521.5 141L521.7 146.76L521.9 147.88L522.1 148.87L522.3 150" fill="none" stroke="#141414" stroke-width="1.45" stroke-linejoin="round"/>
<text x="507" y="169.2" font-size="12" text-anchor="middle" font-weight="normal" fill="#000">5s</text>
<line x1="487.7" y1="175.4" x2="522.4" y2="175.4" stroke="#555" stroke-width="1.2"/>
<text x="1.6" y="248.1" font-size="21" text-anchor="start" font-weight="bold" fill="#000">B</text>
<line x1="58.8" y1="253.8" x2="58.8" y2="457.35" stroke="#000" stroke-width="1.5"/>
<line x1="58.05" y1="456.6" x2="398.8" y2="456.6" stroke="#000" stroke-width="1.5"/>
<line x1="54" y1="456.6" x2="58.8" y2="456.6" stroke="#000" stroke-width="1.3"/>
<text x="53.2" y="460.5" font-size="11" text-anchor="end" font-weight="normal" fill="#000">0</text>
<line x1="54" y1="406.08" x2="58.8" y2="406.08" stroke="#000" stroke-width="1.3"/>
<text x="53.2" y="409.98" font-size="11" text-anchor="end" font-weight="normal" fill="#000">200</text>
<line x1="54" y1="355.55" x2="58.8" y2="355.55" stroke="#000" stroke-width="1.3"/>
<text x="53.2" y="359.45" font-size="11" text-anchor="end" font-weight="normal" fill="#000">400</text>
<line x1="54" y1="305.02" x2="58.8" y2="305.02" stroke="#000" stroke-width="1.3"/>
<text x="53.2" y="308.92" font-size="11" text-anchor="end" font-weight="normal" fill="#000">600</text>
<line x1="54" y1="254.5" x2="58.8" y2="254.5" stroke="#000" stroke-width="1.3"/>
<text x="53.2" y="258.4" font-size="11" text-anchor="end" font-weight="normal" fill="#000">800</text>
<text x="26" y="342.5" font-size="12" text-anchor="middle" font-weight="normal" fill="#000" transform="rotate(-90 26 342.5)">Duration (ms)</text>
<rect x="68.55" y="308.05" width="15.3" height="148.55" fill="#000000" stroke="#000" stroke-width="1.5"/>
<rect x="94.95" y="316.15" width="15.2" height="140.45" fill="#383838" stroke="#000" stroke-width="1.5"/>
<rect x="121.25" y="334.05" width="14.9" height="122.55" fill="#6b6b6b" stroke="#000" stroke-width="1.5"/>
<rect x="147.75" y="338.05" width="14.6" height="118.55" fill="#a2a2a2" stroke="#000" stroke-width="1.5"/>
<rect x="173.75" y="357.95" width="15" height="98.65" fill="#d9d9d5" stroke="#000" stroke-width="1.5"/>
<rect x="200.05" y="369.25" width="14.7" height="87.35" fill="#efefea" stroke="#000" stroke-width="1.5"/>
<rect x="243.75" y="351.15" width="15.7" height="105.45" fill="#000000" stroke="#000" stroke-width="1.5"/>
<rect x="270.15" y="363.25" width="15.1" height="93.35" fill="#383838" stroke="#000" stroke-width="1.5"/>
<rect x="296.15" y="367.15" width="15.8" height="89.45" fill="#6b6b6b" stroke="#000" stroke-width="1.5"/>
<rect x="322.65" y="368.15" width="15.3" height="88.45" fill="#a2a2a2" stroke="#000" stroke-width="1.5"/>
<rect x="349.25" y="378.25" width="14.5" height="78.35" fill="#d9d9d5" stroke="#000" stroke-width="1.5"/>
<rect x="375.15" y="387.25" width="15.5" height="69.35" fill="#efefea" stroke="#000" stroke-width="1.5"/>
<line x1="76.2" y1="289.6" x2="76.2" y2="308.3" stroke="#1e1e1e" stroke-width="1.3"/>
<line x1="71.6" y1="289.6" x2="80.8" y2="289.6" stroke="#1e1e1e" stroke-width="1.3"/>
<line x1="102.5" y1="286.4" x2="102.5" y2="343.6" stroke="#1e1e1e" stroke-width="1.3"/>
<line x1="97.9" y1="286.4" x2="107.1" y2="286.4" stroke="#1e1e1e" stroke-width="1.3"/>
<line x1="97.9" y1="343.6" x2="107.1" y2="343.6" stroke="#1e1e1e" stroke-width="1.3"/>
<line x1="128.7" y1="312.5" x2="128.7" y2="353.1" stroke="#1e1e1e" stroke-width="1.3"/>
<line x1="124.1" y1="312.5" x2="133.3" y2="312.5" stroke="#1e1e1e" stroke-width="1.3"/>
<line x1="124.1" y1="353.1" x2="133.3" y2="353.1" stroke="#1e1e1e" stroke-width="1.3"/>
<line x1="155" y1="328.9" x2="155" y2="345.2" stroke="#1e1e1e" stroke-width="1.3"/>
<line x1="150.4" y1="328.9" x2="159.6" y2="328.9" stroke="#1e1e1e" stroke-width="1.3"/>
<line x1="150.4" y1="345.2" x2="159.6" y2="345.2" stroke="#1e1e1e" stroke-width="1.3"/>
<line x1="181.2" y1="347.8" x2="181.2" y2="365" stroke="#1e1e1e" stroke-width="1.3"/>
<line x1="176.6" y1="347.8" x2="185.8" y2="347.8" stroke="#1e1e1e" stroke-width="1.3"/>
<line x1="176.6" y1="365" x2="185.8" y2="365" stroke="#1e1e1e" stroke-width="1.3"/>
<line x1="207.4" y1="344.9" x2="207.4" y2="389.8" stroke="#1e1e1e" stroke-width="1.3"/>
<line x1="202.8" y1="344.9" x2="212" y2="344.9" stroke="#1e1e1e" stroke-width="1.3"/>
<line x1="202.8" y1="389.8" x2="212" y2="389.8" stroke="#1e1e1e" stroke-width="1.3"/>
<line x1="251.6" y1="330.2" x2="251.6" y2="351.4" stroke="#1e1e1e" stroke-width="1.3"/>
<line x1="247" y1="330.2" x2="256.2" y2="330.2" stroke="#1e1e1e" stroke-width="1.3"/>
<line x1="277.7" y1="348.4" x2="277.7" y2="375.5" stroke="#1e1e1e" stroke-width="1.3"/>
<line x1="273.1" y1="348.4" x2="282.3" y2="348.4" stroke="#1e1e1e" stroke-width="1.3"/>
<line x1="273.1" y1="375.5" x2="282.3" y2="375.5" stroke="#1e1e1e" stroke-width="1.3"/>
<line x1="304" y1="351.2" x2="304" y2="380.5" stroke="#1e1e1e" stroke-width="1.3"/>
<line x1="299.4" y1="351.2" x2="308.6" y2="351.2" stroke="#1e1e1e" stroke-width="1.3"/>
<line x1="299.4" y1="380.5" x2="308.6" y2="380.5" stroke="#1e1e1e" stroke-width="1.3"/>
<line x1="330.3" y1="360.2" x2="330.3" y2="373.2" stroke="#1e1e1e" stroke-width="1.3"/>
<line x1="325.7" y1="360.2" x2="334.9" y2="360.2" stroke="#1e1e1e" stroke-width="1.3"/>
<line x1="325.7" y1="373.2" x2="334.9" y2="373.2" stroke="#1e1e1e" stroke-width="1.3"/>
<line x1="356.5" y1="371.2" x2="356.5" y2="382.5" stroke="#1e1e1e" stroke-width="1.3"/>
<line x1="351.9" y1="371.2" x2="361.1" y2="371.2" stroke="#1e1e1e" stroke-width="1.3"/>
<line x1="351.9" y1="382.5" x2="361.1" y2="382.5" stroke="#1e1e1e" stroke-width="1.3"/>
<line x1="382.8" y1="370.4" x2="382.8" y2="401.3" stroke="#1e1e1e" stroke-width="1.3"/>
<line x1="378.2" y1="370.4" x2="387.4" y2="370.4" stroke="#1e1e1e" stroke-width="1.3"/>
<line x1="378.2" y1="401.3" x2="387.4" y2="401.3" stroke="#1e1e1e" stroke-width="1.3"/>
<path d="M75.5 283.8 V269.4 H102.5 V283.8" fill="none" stroke="#5e5e5e" stroke-width="1.2"/>
<path d="M102.5 276.2 H127.4 V307.5" fill="none" stroke="#5e5e5e" stroke-width="1.2"/>
<path d="M127.4 295.2 H154.6 V326.4" fill="none" stroke="#5e5e5e" stroke-width="1.2"/>
<path d="M154.6 314.5 H180.9 V345.2" fill="none" stroke="#5e5e5e" stroke-width="1.2"/>
<path d="M180.9 344.7 V328.3 H207.3 V341.2" fill="none" stroke="#5e5e5e" stroke-width="1.2"/>
<path d="M251.2 328.1 V314.4 H278.5 V345.0" fill="none" stroke="#5e5e5e" stroke-width="1.2"/>
<path d="M278.5 323.1 H303.8 V347.1" fill="none" stroke="#5e5e5e" stroke-width="1.2"/>
<path d="M303.8 333.4 H331.0 V357.8" fill="none" stroke="#5e5e5e" stroke-width="1.2"/>
<path d="M331.0 342.0 H356.6 V366.0" fill="none" stroke="#5e5e5e" stroke-width="1.2"/>
<path d="M356.6 366.0 V348.9 H381.9 V365.5" fill="none" stroke="#5e5e5e" stroke-width="1.2"/>
<text x="115.7" y="276.6" font-size="11.5" text-anchor="middle" font-weight="normal" fill="#000">*</text>
<text x="141.1" y="296.1" font-size="11.5" text-anchor="middle" font-weight="normal" fill="#000">*</text>
<text x="167.4" y="315.2" font-size="11.5" text-anchor="middle" font-weight="normal" fill="#000">*</text>
<text x="193.6" y="329" font-size="11.5" text-anchor="middle" font-weight="normal" fill="#000">*</text>
<text x="264.5" y="315.8" font-size="11.5" text-anchor="middle" font-weight="normal" fill="#000">*</text>
<text x="316.9" y="336.2" font-size="11.5" text-anchor="middle" font-weight="normal" fill="#000">*</text>
<text x="343.9" y="344.6" font-size="11.5" text-anchor="middle" font-weight="normal" fill="#000">*</text>
<text x="368.3" y="351.2" font-size="11.5" text-anchor="middle" font-weight="normal" fill="#000">*</text>
<text x="89.9" y="267.3" font-size="12" text-anchor="middle" font-weight="normal" fill="#000">ns</text>
<text x="291.7" y="321.3" font-size="12" text-anchor="middle" font-weight="normal" fill="#000">ns</text>
<text x="141" y="479.2" font-size="12" text-anchor="middle" font-weight="normal" fill="#000">APD90</text>
<text x="316.2" y="479.2" font-size="12" text-anchor="middle" font-weight="normal" fill="#000">APD50</text>
<rect x="350.75" y="269.05" width="14.7" height="9.6" fill="#000000" stroke="#000" stroke-width="1.5"/>
<text x="370" y="278.9" font-size="12" text-anchor="start" font-weight="normal" fill="#000">no stim</text>
<rect x="350.75" y="288.55" width="14.7" height="9.6" fill="#383838" stroke="#000" stroke-width="1.5"/>
<text x="370" y="298.4" font-size="12" text-anchor="start" font-weight="normal" fill="#000">0.4 Hz</text>
<rect x="350.75" y="307.75" width="14.7" height="9.6" fill="#6b6b6b" stroke="#000" stroke-width="1.5"/>
<text x="370" y="317.6" font-size="12" text-anchor="start" font-weight="normal" fill="#000">0.5 Hz</text>
<rect x="431.45" y="269.05" width="14.7" height="9.6" fill="#a2a2a2" stroke="#000" stroke-width="1.5"/>
<text x="450.7" y="278.9" font-size="12" text-anchor="start" font-weight="normal" fill="#000">1.0 Hz</text>
<rect x="431.45" y="288.55" width="14.7" height="9.6" fill="#d9d9d5" stroke="#000" stroke-width="1.5"/>
<text x="450.7" y="298.4" font-size="12" text-anchor="start" font-weight="normal" fill="#000">1.5 Hz</text>
<rect x="431.45" y="307.75" width="14.7" height="9.6" fill="#efefea" stroke="#000" stroke-width="1.5"/>
<text x="450.7" y="317.6" font-size="12" text-anchor="start" font-weight="normal" fill="#000">2.0 Hz</text>
<text x="1" y="526.2" font-size="21" text-anchor="start" font-weight="bold" fill="#000">C</text>
<text x="18.7" y="604.5" font-size="12" text-anchor="middle" font-weight="normal" fill="#000" transform="rotate(-90 18.7 604.5)">RFP/GFP ratio</text>
<text x="339.2" y="528.2" font-size="12" text-anchor="middle" font-weight="normal" fill="#000">1 µM isoproterenol</text>
<line x1="181.9" y1="534.8" x2="494.7" y2="534.8" stroke="#111" stroke-width="1.4"/>
<path d="M29.6 649.35L29.8 646.85L30 647.45L30.2 648.06L30.4 648.35L30.6 647.14L30.8 649.04L31 650.5L31.2 647.15L31.4 649.95L31.6 644.94L31.8 649.29L32 647.06L32.2 647.62L32.4 646.98L32.6 646.56L32.8 645.72L33 646.78L33.2 648.85L33.4 648.61L33.6 646.71L33.8 646.44L34 646.18L34.2 645.52L34.4 649.22L34.6 647.76L34.8 647.03L35 646.23L35.2 645.53L35.4 648.4L35.6 647.69L35.8 645.48L36 647.87L36.2 645.21L36.4 647.35L36.6 645.3L36.8 645.94L37 647.03L37.2 646.91L37.4 647.59L37.6 645.24L37.8 648.22L38 647.88L38.2 646.15L38.4 646.7L38.6 645.1L38.8 645.84L39 644.34L39.2 646.06L39.4 646.15L39.6 647.54L39.8 647L40 646.79L40.2 645.28L40.4 645.41L40.6 645.22L40.8 645.88L41 643.15L41.2 646.48L41.4 643.52L41.6 644.79L41.8 645.42L42 644.71L42.2 647.38L42.4 645.14L42.6 647.18L42.8 646.64L43 644.51L43.2 645.59L43.4 646.67L43.6 644.59L43.8 645.07L44 644.22L44.2 644.95L44.4 644.39L44.6 644.89L44.8 646L45 646.44L45.2 644.83L45.4 644.87L45.6 645.65L45.8 644.17L46 643.17L46.2 645.83L46.4 643.24L46.6 645.52L46.8 643.12L47 646.56L47.2 642.93L47.4 645.25L47.6 646.02L47.8 642.91L48 645.92L48.2 642.99L48.4 641.78L48.6 644.84L48.8 644.77L49 643.6L49.2 640.66L49.4 643.7L49.6 643.34L49.7 643.61L49.9 634.18L50.1 624.81L50.3 616.55L50.5 609.01L50.7 601.29L50.9 593.63L51.1 586.78L51.3 580.73L51.5 575.03L51.7 569.53L51.9 564.11L52.1 559.91L52.3 555.83L52.5 552.52L52.7 549.29L52.9 546.4L53.1 545.05L53.3 544.39L53.5 546.78L53.7 545.81L53.9 547.25L54.1 548.43L54.3 547.57L54.5 548.48L54.7 548.3L54.9 550.69L55.1 551.23L55.3 551.72L55.5 553.16L55.7 551.63L55.9 554.16L56.1 554.98L56.3 555.41L56.4 556.23L56.6 557.81L56.8 558.96L57 561.07L57.2 563.86L57.4 567.18L57.6 570.84L57.8 574.29L58 579.01L58.2 582.87L58.4 588.07L58.6 592.77L58.8 597.71L59 603.16L59.2 607.42L59.4 612.33L59.6 617.26L59.8 621.93L60 625.62L60.2 630.12L60.4 633.52L60.6 637.24L60.8 640.36L61 642.46L61.2 644.43L61.4 646.06L61.5 642.77L61.7 646.86L61.9 645.85L62.1 644.59L62.3 643.11L62.5 641.92L62.7 641.87L62.9 642.9L63.1 640.42L63.3 641.52L63.5 636.41L63.7 639.12L63.9 640.05L64.1 639.65L64.3 637.49L64.5 638.76L64.7 641.21L64.9 637.89L65.1 638.26L65.3 638.1L65.5 638.78L65.7 640.3L65.9 640.21L66.1 636.78L66.3 641.28L66.5 638.6L66.7 638.58L66.9 641.47L67.1 639.18L67.3 637.66L67.5 638.41L67.7 638.27L67.9 637.88L68.1 638.73L68.3 640.27L68.5 639.56L68.7 637.3L68.9 642.67L69.1 637.75L69.3 639.16L69.5 639.02L69.7 639.94L69.9 638.51L70.1 639.5L70.3 641.61L70.5 638.98L70.7 637.43L70.9 639.23L71.1 637.74L71.3 638.27L71.5 638.97L71.7 639.14L71.9 638.31L72.1 639.75L72.3 638.38L72.5 636.91L72.7 639.71L72.9 638.08L73.1 640.1L73.3 637.65L73.5 639.22L73.7 638.86L73.9 634.93L74.1 636.46L74.3 636.92L74.5 640.17L74.7 635.87L74.9 639.48L75.1 639.69L75.3 638.89L75.5 639.09L75.7 637.55L75.9 638.16L76.1 638.44L76.3 638.66L76.5 639.01L76.7 637.8L76.9 637.13L77.1 637.29L77.3 638.52L77.5 635.81L77.7 636.32L77.9 637.38L78.1 637.17L78.3 637.51L78.5 634.39L78.7 637.37L78.9 637.46L79.1 638.77L79.3 635.17L79.5 637.31L79.7 638.3L79.9 638.29L80.1 639.19L80.3 638.98L80.5 636.22L80.7 638.38L80.9 637.1L81.1 636.47L81.3 639.47L81.5 636.64L81.7 636.32L81.9 636.88L82.1 636.28L82.3 638.66L82.5 637.82L82.7 639.12L82.9 637.81L83.1 636.46L83.3 638.59L83.5 636.35L83.7 636.58L83.9 636.93L84.1 637.18L84.3 638.65L84.5 636.29L84.7 637.51L84.9 636.99L85.1 635.36L85.3 635.55L85.5 636.66L85.7 637.45L85.9 637.31L86.1 637.49L86.3 636.91L86.5 636.24L86.7 637.35L86.9 635.47L87.1 635L87.3 636.29L87.5 634.84L87.7 636L87.9 635.67L88.1 635.9L88.3 636.53L88.5 635.53L88.7 635.99L88.9 634.29L89.1 636.68L89.3 635.32L89.5 636.97L89.7 632.74L89.9 635.35L90.1 636.68L90.3 633.16L90.5 635.84L90.6 635.87L90.8 627.67L91 619.43L91.2 612.33L91.4 605.13L91.6 598.01L91.8 591.92L92 585.57L92.2 579.75L92.4 574.15L92.6 569.24L92.8 564.31L93 560.08L93.2 555.78L93.4 551.72L93.6 548.35L93.8 545.5L94 542.4L94.2 540.13L94.4 538.06L94.5 536.84L94.7 535.84L94.9 538.84L95.1 539.78L95.3 540.57L95.5 540.66L95.7 543.23L95.9 542.93L96.1 543.37L96.3 544.15L96.5 545.95L96.7 546.18L96.9 548L97.1 551.44L97.3 554.57L97.5 558.54L97.7 563.32L97.9 568.34L98.1 573.4L98.3 580.32L98.5 586.66L98.7 592.89L98.9 598.63L99.1 605.89L99.3 612.01L99.5 617.19L99.7 622.62L99.9 627.49L100.1 631.28L100.3 634.96L100.5 637.24L100.7 639.9L100.9 638.55L101.1 635.95L101.3 636.01L101.5 640.89L101.7 636.53L101.9 637.31L102.1 636.5L102.3 636.66L102.5 634.56L102.7 633.03L102.9 633.82L103.1 631.26L103.3 633.51L103.5 634.92L103.7 630.89L103.9 633.96L104.1 634.76L104.3 635.4L104.5 632.43L104.7 632.77L104.9 631.15L105.1 632.25L105.3 634.27L105.5 636.26L105.7 632.03L105.9 635.32L106.1 634.05L106.3 632.82L106.5 636.33L106.7 630.13L106.9 633.33L107.1 633.68L107.3 636.17L107.5 635.71L107.7 636.31L107.9 633.5L108.1 634.59L108.3 635.07L108.5 633.94L108.7 633.72L108.9 632.99L109.1 632.67L109.3 631.58L109.5 635.73L109.7 632.57L109.9 630.4L110.1 633.46L110.3 633.05L110.5 633.31L110.7 635.44L110.9 632.9L111.1 632.67L111.3 632.02L111.5 632.95L111.7 632.39L111.9 633.21L112.1 637.03L112.3 633.42L112.5 631.76L112.7 635.4L112.9 633.98L113.1 633.9L113.3 633.75L113.5 633.87L113.7 633.66L113.9 634.61L114.1 634.06L114.3 634.49L114.5 632.04L114.7 632.68L114.9 631.7L115.1 633.9L115.3 633.71L115.5 631.99L115.7 633.35L115.9 636.02L116.1 634.17L116.3 631.06L116.5 632.39L116.7 633.33L116.9 632.42L117.1 632.96L117.3 633.98L117.5 632.85L117.7 630.95L117.9 633.32L118.1 632.23L118.3 632.49L118.5 631.58L118.7 630.48L118.9 630.64L119.1 631.8L119.3 630.84L119.5 628.66L119.7 633.72L119.9 630.66L120.1 631.22L120.3 632.85L120.5 628.96L120.7 633.88L120.9 631.08L121.1 632.94L121.3 631.42L121.5 632.44L121.7 632.16L121.9 632L122.1 629.58L122.3 630.03L122.5 631.89L122.7 633.78L122.9 631.19L123.1 632.59L123.3 632.08L123.5 632.49L123.7 633.13L123.9 629.84L124.1 632.15L124.3 631.54L124.5 631.34L124.7 630.61L124.9 630.68L125.1 630.34L125.3 630.24L125.5 634.96L125.7 633.88L125.9 631.64L126.1 632.58L126.3 630.3L126.5 627.91L126.7 629.15L126.9 631.71L127.1 633.4L127.3 631.44L127.5 630.16L127.7 631.13L127.9 630.12L128.1 629.58L128.3 631.09L128.5 630.85L128.7 630.29L128.9 630.17L129.1 630.1L129.3 631.61L129.5 633.12L129.7 630.99L129.9 634.19L130.1 629.1L130.3 631.57L130.5 629.67L130.7 630.96L130.9 631.29L131.1 631.87L131.3 632.6L131.5 630.36L131.7 629.44L131.9 630.81L132.1 631.42L132.3 630.1L132.5 630.32L132.7 623.11L132.9 615.25L133.1 608.88L133.3 602.53L133.5 595.61L133.7 590.21L133.9 584.49L134.1 578.88L134.3 574.53L134.5 569.53L134.7 564.94L134.9 561.03L135.1 557.25L135.3 553.75L135.5 550.46L135.7 547.48L135.9 544.46L136.1 542.29L136.3 540.38L136.5 537.93L136.5 540.47L136.7 539.22L136.9 539.59L137.1 539.87L137.3 542.64L137.5 543.41L137.7 543.83L137.9 544.93L138.1 545.47L138.3 546.55L138.5 548.08L138.7 548.56L138.8 549.8L139 550.97L139.2 553L139.4 555.55L139.6 558.77L139.8 562.01L140 565.77L140.2 569.91L140.4 574.31L140.6 579.31L140.8 584.7L141 589.81L141.2 594.95L141.4 600.02L141.6 605.25L141.8 610.96L142 616.15L142.2 620.7L142.4 624.61L142.6 629.02L142.8 632.8L143 635.68L143.2 638.77L143.4 640.82L143.6 642.32L143.7 641.48L143.9 643.79L144.1 642.73L144.3 640.53L144.5 639.65L144.7 641.25L144.9 639.77L145.1 637.33L145.3 638.51L145.5 634.78L145.7 633.01L145.9 635.43L146.1 633.79L146.3 634.97L146.5 635.41L146.7 635.11L146.9 635.99L147.1 638.35L147.3 641.33L147.5 638.85L147.7 642.44L147.9 641.27L148.1 639.73L148.3 641.68L148.5 642.16L148.7 640.3L148.9 638.73L149.1 642.04L149.3 640.13L149.5 642.03L149.7 638.2L149.9 638.34L150.1 633.64L150.3 629.37L150.5 631.01L150.7 634.98L150.9 637.85L151.1 639.21L151.3 641.74L151.5 639.22L151.7 642.08L151.9 641.82L152.1 643.12L152.3 641.79L152.5 640.8L152.7 640.38L152.9 639.81L153.1 637.84L153.3 641.39L153.5 640.15L153.7 639.17L153.9 638.24L154.1 641.96L154.3 641.05L154.5 639.17L154.7 641.99L154.9 643.96L155.1 641.78L155.3 642.63L155.5 641.8L155.7 641.72L155.9 644.11L156.1 646.86L156.3 643.07L156.5 642.83L156.7 644.1L156.9 642.71L157.1 644.12L157.3 644.28L157.5 641.77L157.7 641.04L157.9 640.29L158.1 638.26L158.3 635.87L158.5 639L158.7 638.96L158.9 643.62L159.1 642.95L159.3 644.13L159.5 644.54L159.7 642.95L159.9 644.02L160.1 642.89L160.3 644.87L160.5 643.5L160.7 644.07L160.9 645.1L161.1 644.05L161.3 646.5L161.5 644.26L161.7 646.3L161.9 645.65L162.1 644.01L162.3 645.17L162.5 644.45L162.7 645.16L162.9 645.37L163.1 648.19L163.3 645.34L163.5 648.02L163.7 646.63L163.9 644.42L164.1 643.18L164.3 647.17L164.5 643.75L164.7 647.36L164.9 647.84L165.1 647.07L165.3 646.36L165.5 646.37L165.7 647.1L165.9 646.42L166.1 646.18L166.3 646.45L166.5 648.52L166.7 646.23L166.9 647.59L167.1 645.64L167.3 646.26L167.5 645.44L167.7 647.02L167.9 648.22L168.1 647.76L168.3 646.76L168.5 648.24L168.7 647.02L168.9 647.99L169.1 647.89L169.3 648.27L169.5 644.35L169.7 645.91L169.9 648.65L170.1 647.52L170.3 650.61L170.5 647.38L170.7 646.99L170.9 649.67L171.1 648.46L171.3 650.22L171.5 648.41L171.7 647.49L171.9 648.7L172.1 646.73L172.3 647.18L172.5 647.04L172.7 647.47L172.9 648.78L173.1 647.13L173.3 648.17L173.5 647.09L173.7 648.89L173.9 644.12L174.1 647.44L174.3 647.92L174.5 646.28L174.7 648.99L174.9 647.94L175.1 649.31L175.3 648.88L175.5 648.44L175.7 647.39L175.9 646.15L176.1 647.26L176.3 646.93L176.3 646.99L176.5 639.22L176.7 632.77L176.9 624.65L177.1 618.61L177.3 611.81L177.5 605.76L177.7 600.23L177.9 594.49L178.1 588.98L178.3 584.46L178.5 579.69L178.7 574.92L178.9 571.44L179.1 567.41L179.3 564.06L179.5 561.22L179.7 558.35L179.9 555.67L180.1 554.02L180.3 551.66L180.4 550.17L180.6 551.73L180.8 552.25L181 551.27L181.2 552.64L181.4 553.63L181.6 557.46L181.8 556.33L182 557.08L182.2 557.66L182.4 559.83L182.6 559.83L182.8 562.11L183 562.14L183.2 563.72L183.3 562.67L183.5 564.78L183.7 567.49L183.9 571.42L184.1 575.65L184.3 581.41L184.5 587.34L184.7 593.92L184.9 601.26L185.1 607.91L185.3 615.07L185.5 621.64L185.7 627.94L185.9 633.71L186.1 638.31L186.3 643L186.5 646.08L186.7 648.48L186.8 651.06L187 651.7L187.2 646.99L187.4 649.9L187.6 648.1L187.8 645.28L188 646.1L188.2 645.58L188.4 644.94L188.6 643.33L188.8 642.1L189 643.79L189.2 644.85L189.4 644.73L189.6 644.54L189.8 645.09L190 642.35L190.2 643.56L190.4 644.04L190.6 644.87L190.8 643.75L191 644.2L191.2 643.68L191.4 646.21L191.6 640.62L191.8 643.4L192 646.63L192.2 643.7L192.4 640.98L192.6 643.52L192.8 641.46L193 642.42L193.2 643.57L193.4 645.48L193.6 643.83L193.8 644.08L194 644.51L194.2 643.42L194.4 642.03L194.6 642.99L194.8 643.53L195 642.71L195.2 642.18L195.4 642.56L195.6 641.05L195.65 639.97L195.85 640.55L196.05 639.06L196.25 637.5L196.45 635.07L196.65 631.39L196.85 627.26L197.05 622.39L197.25 617.35L197.45 612.26L197.65 606.25L197.85 600.69L198.05 594.4L198.25 588.82L198.45 583.07L198.65 577.89L198.85 572.49L199.05 567.9L199.25 564L199.45 560.54L199.65 559.58L199.85 555.54L200.05 554.04L200.25 553.86L200.25 554.93L200.45 555.13L200.65 556.41L200.85 553.78L201.05 560.3L201.25 559.89L201.45 557.58L201.65 556.34L201.85 559.01L202.05 559.98L202.25 556.48L202.45 560.51L202.65 558.78L202.85 562.33L203.05 564.33L203.05 563.29L203.25 561.41L203.45 566.24L203.65 568.25L203.85 570.29L204.05 574.13L204.25 578.41L204.45 582.18L204.65 586.82L204.85 591.37L205.05 596.67L205.25 600.55L205.45 606.39L205.65 610.41L205.85 615.52L206.05 619.16L206.25 623.49L206.45 627.43L206.65 631.37L206.85 633.84L207.05 637.28L207.25 639.31L207.45 641.83L207.65 642.69L207.85 644.63L208.05 644.6L208.25 646.9L208.25 644.45L208.45 644.96L208.65 648.05L208.85 645.12L209.05 646.06L209.25 643.87L209.45 645.31L209.65 641.51L209.85 645.16L210.05 644L210.25 642.69L210.45 642.82L210.65 646.76L210.85 645.66L211.05 642.67L211.25 647.79L211.45 643.93L211.65 644.43L211.85 645.38L212.05 643.25L212.25 642.51L212.45 643.85L212.65 646.82L212.85 646.47L213.05 642.57L213.15 643.84L213.35 642.16L213.55 641.35L213.75 638.72L213.95 635.81L214.15 631.76L214.35 627.39L214.55 622.45L214.75 617.03L214.95 611.37L215.15 604.73L215.35 599.03L215.55 592.07L215.75 585.7L215.95 579.82L216.15 573.85L216.35 568.17L216.55 563.01L216.75 558.63L216.95 554.78L217.15 553.41L217.35 551.19L217.55 550.72L217.75 548.83L217.75 548.81L217.95 550.04L218.15 550.91L218.35 549.62L218.55 551.13L218.75 554.47L218.95 549.12L219.15 550.14L219.35 551.39L219.55 554.6L219.75 555.84L219.95 554.06L220.15 556.19L220.35 555.65L220.55 556.76L220.55 555.73L220.75 557.1L220.95 558.97L221.15 562.77L221.35 565.42L221.55 567.97L221.75 572.78L221.95 577.08L222.15 582.07L222.35 586.97L222.55 591.86L222.75 596.87L222.95 601.34L223.15 606L223.35 611.7L223.55 616.09L223.75 619.74L223.95 624.37L224.15 627.84L224.35 630.22L224.55 634.08L224.75 636.02L224.95 638.68L225.15 639.22L225.35 640.3L225.55 640.14L225.75 641.77L225.75 643.57L225.95 640.97L226.15 639.13L226.35 645.3L226.55 644.84L226.75 643.06L226.95 641.17L227.15 640.13L227.35 639.47L227.55 642.86L227.75 644L227.95 640.37L228.15 642L228.35 641.57L228.55 641.6L228.75 642.77L228.95 645.23L229.15 641.02L229.2 641.92L229.4 641.78L229.6 639.14L229.8 637.33L230 634.48L230.2 631.71L230.4 627.35L230.6 622.8L230.8 618L231 612.44L231.2 606.79L231.4 601.2L231.6 595.81L231.8 589.63L232 584.2L232.2 578.38L232.4 573.29L232.6 569.68L232.8 565.17L233 561.54L233.2 559.12L233.4 557.93L233.6 554.27L233.8 554.76L233.8 556.1L234 554.85L234.2 558.07L234.4 558.9L234.6 558.67L234.8 557.89L235 559.06L235.2 558.72L235.4 560.07L235.6 561.33L235.8 560.95L236 563.49L236.2 566.56L236.4 562.28L236.6 564.23L236.6 564.57L236.8 565.13L237 565.86L237.2 567.94L237.4 571.64L237.6 574.88L237.8 578.57L238 582.21L238.2 586.87L238.4 591.32L238.6 595.52L238.8 600.27L239 605.2L239.2 608.43L239.4 613.41L239.6 616.97L239.8 620.77L240 624.69L240.2 628.21L240.4 631.03L240.6 633.29L240.8 635.44L241 637.54L241.2 639.16L241.4 639.3L241.6 639.2L241.8 642.87L241.8 639.7L242 640.76L242.2 640.15L242.4 640.09L242.6 641.06L242.8 640.54L243 641.96L243.1 640.7L243.3 639.95L243.5 642.33L243.7 638.08L243.9 635.46L244.1 631.94L244.3 627.51L244.5 622.52L244.7 616.78L244.9 611.02L245.1 605.61L245.3 599.33L245.5 593.03L245.7 586.28L245.9 580.13L246.1 574.64L246.3 569.26L246.5 564.72L246.7 560.15L246.9 557.17L247.1 553.24L247.3 551.2L247.5 551.45L247.7 550.45L247.7 548.71L247.9 551.95L248.1 554.22L248.3 549.91L248.5 552L248.7 551.29L248.9 550.52L249.1 555.07L249.3 555.75L249.5 556.76L249.7 556.48L249.9 553.26L250.1 556.92L250.3 556.49L250.5 556.27L250.5 556.92L250.7 559.75L250.9 560.46L251.1 565.48L251.3 566.74L251.5 569.77L251.7 574.72L251.9 579.3L252.1 583.66L252.3 588.18L252.5 594.03L252.7 598.15L252.9 603.49L253.1 607.85L253.3 612.78L253.5 617.18L253.7 622.28L253.9 626.3L254.1 629.49L254.3 632.51L254.5 635.79L254.7 638.4L254.9 639.89L255.1 640.7L255.3 642.98L255.5 644.53L255.7 644.08L255.7 644.7L255.9 642.05L256.1 640.12L256.3 644.49L256.5 642.57L256.7 643.81L256.9 643.41L257.1 644.75L257.3 642.8L257.5 646.25L257.7 644.05L257.9 644.83L258.1 644.98L258.15 646.1L258.35 645.02L258.55 641.54L258.75 640.82L258.95 639.3L259.15 635.65L259.35 631.74L259.55 627.26L259.75 622.07L259.95 616.79L260.15 611.26L260.35 606L260.55 600.05L260.75 594.7L260.95 588.85L261.15 583.92L261.35 578.65L261.55 573.79L261.75 570.58L261.95 566.92L262.15 565.47L262.35 562.49L262.55 560.74L262.75 560.88L262.75 558.94L262.95 559.4L263.15 560.45L263.35 561.59L263.55 560.86L263.75 563.4L263.95 564.61L264.15 567.88L264.35 568.16L264.55 565.76L264.75 567.8L264.95 566.64L265.15 568.17L265.35 568.08L265.55 567.85L265.55 568.78L265.75 567.79L265.95 571.4L266.15 572.77L266.35 575.44L266.55 578.74L266.75 582.45L266.95 585.79L267.15 590.04L267.35 594.13L267.55 598.56L267.75 601.94L267.95 606.37L268.15 610.61L268.35 614.83L268.55 618.23L268.75 621.93L268.95 624.59L269.15 627.88L269.35 631.28L269.55 633.11L269.75 635.9L269.95 636.75L270.15 637.99L270.35 637.51L270.55 640.5L270.75 640.29L270.75 643.18L270.95 640.26L271.15 639.6L271.35 637.78L271.55 639.87L271.75 641.49L271.95 641.17L272.15 641.94L272.35 641.36L272.55 639.93L272.75 640.95L272.9 641.14L273.1 639.1L273.3 641.18L273.5 637.71L273.7 634.27L273.9 631.15L274.1 627.02L274.3 622.52L274.5 617.49L274.7 610.85L274.9 605.94L275.1 600.22L275.3 593.58L275.5 587.39L275.7 582.12L275.9 576.61L276.1 571.47L276.3 566.43L276.5 562.48L276.7 559.17L276.9 557.16L277.1 556.72L277.3 553.43L277.5 552.04L277.5 548.96L277.7 554.97L277.9 553.63L278.1 554.24L278.3 553.42L278.5 556.72L278.7 553.29L278.9 556.87L279.1 557.46L279.3 558.32L279.5 560.48L279.7 558.83L279.9 559.71L280.1 561.49L280.3 558.24L280.3 560.38L280.5 561.56L280.7 564.26L280.9 564.8L281.1 568.93L281.3 572.31L281.5 575.65L281.7 579.85L281.9 584.3L282.1 589.37L282.3 594.08L282.5 598.95L282.7 603.67L282.9 607.85L283.1 612.79L283.3 616.99L283.5 620.91L283.7 624.67L283.9 627.58L284.1 631.17L284.3 633.48L284.5 635.77L284.7 637.95L284.9 639.72L285.1 640.58L285.3 640.92L285.5 640.41L285.5 641.8L285.7 640.32L285.9 639.26L286.1 641.65L286.3 643.81L286.5 640.86L286.7 639.81L286.9 643.7L287.1 644.22L287.3 641.03L287.5 641.16L287.7 641.84L287.85 645.07L288.05 641.64L288.25 641.57L288.45 639.29L288.65 636.05L288.85 633.35L289.05 629.91L289.25 626.44L289.45 622.09L289.65 617.93L289.85 612.6L290.05 607.79L290.25 602.74L290.45 597.8L290.65 593.53L290.85 588.44L291.05 584.47L291.25 580.55L291.45 576.66L291.65 574.1L291.85 571.21L292.05 570.08L292.25 569.11L292.45 568.62L292.45 567.85L292.65 571.65L292.85 569.32L293.05 571.43L293.25 573.56L293.45 572.46L293.65 573.67L293.85 574.81L294.05 574.91L294.25 576.48L294.45 572.04L294.65 578.01L294.85 575.5L295.05 573.24L295.25 575.58L295.25 575.07L295.45 577.18L295.65 576.91L295.85 579.33L296.05 582.86L296.25 585.53L296.45 588.25L296.65 591.66L296.85 595.13L297.05 598.73L297.25 602.33L297.45 605.91L297.65 609.86L297.85 612.66L298.05 616.44L298.25 619.92L298.45 622.87L298.65 625.72L298.85 628.42L299.05 631L299.25 633.42L299.45 634.8L299.65 636.26L299.85 637.9L300.05 638.07L300.25 636.71L300.45 639.29L300.45 638.4L300.65 638.09L300.85 640L301.05 639.07L301.25 638.1L301.45 635.52L301.65 636.25L301.85 639.02L301.9 638.89L302.1 639.13L302.3 637.8L302.5 635.21L302.7 632.93L302.9 629.85L303.1 626.4L303.3 621.95L303.5 617.8L303.7 612.31L303.9 606.98L304.1 602.02L304.3 596.21L304.5 591.7L304.7 585.83L304.9 581.1L305.1 576.43L305.3 572.09L305.5 568.15L305.7 565.01L305.9 563.93L306.1 562.29L306.3 562.45L306.5 558.09L306.5 560.6L306.7 560.25L306.9 562.2L307.1 560.59L307.3 563.14L307.5 563.99L307.7 564.1L307.9 566.01L308.1 563.99L308.3 567.31L308.5 564.29L308.7 568.65L308.9 562.16L309.1 567.15L309.3 566.42L309.3 567.7L309.5 569.53L309.7 570.74L309.9 572.25L310.1 575.36L310.3 577.55L310.5 581.23L310.7 585.69L310.9 589.3L311.1 592.69L311.3 597.61L311.5 601.38L311.7 606.37L311.9 610.38L312.1 613.86L312.3 618.23L312.5 621.2L312.7 625.09L312.9 628.06L313.1 630.62L313.3 632.68L313.5 635.11L313.7 636.23L313.9 637.65L314.1 637.2L314.3 641.15L314.5 638.94L314.5 636.11L314.7 640.93L314.9 640.59L315.1 639.19L315.3 643.39L315.5 641.24L315.7 640.11L315.9 638.97L316.1 635.27L316.3 640.77L316.5 641.54L316.7 639.05L316.9 637.74L317.1 639.93L317.1 638.09L317.3 639.59L317.5 639.38L317.7 638.48L317.9 634.52L318.1 631.53L318.3 628.16L318.5 624.34L318.7 619.52L318.9 614.57L319.1 609.73L319.3 604.52L319.5 599.47L319.7 594.57L319.9 589.74L320.1 584.98L320.3 580.56L320.5 576.47L320.7 573.15L320.9 570.3L321.1 568.55L321.3 567.64L321.5 564.63L321.7 564.32L321.7 567.31L321.9 565.49L322.1 566.4L322.3 565.78L322.5 568.44L322.7 566.81L322.9 566.42L323.1 568.5L323.3 568.46L323.5 571.08L323.7 569.71L323.9 571.08L324.1 571.11L324.3 572.57L324.5 571.59L324.5 573.82L324.7 571.68L324.9 574.25L325.1 575.9L325.3 579.36L325.5 582.06L325.7 585.39L325.9 588.6L326.1 592.13L326.3 595.79L326.5 599.88L326.7 603.69L326.9 607.79L327.1 611.59L327.3 615.44L327.5 618.62L327.7 621.74L327.9 624.73L328.1 627.9L328.3 630.53L328.5 633.25L328.7 634.64L328.9 636.7L329.1 639.47L329.3 637.14L329.5 640.16L329.7 640.25L329.7 641.15L329.9 638.98L330.1 640.53L330.3 638.23L330.5 638.89L330.7 639.03L330.9 641.85L331.1 638.66L331.3 640.53L331.5 639.11L331.7 637.87L331.75 638.13L331.95 638.24L332.15 635.69L332.35 635.45L332.55 632.21L332.75 629.21L332.95 625.97L333.15 621.88L333.35 617.3L333.55 612.43L333.75 607.9L333.95 602.86L334.15 597.55L334.35 592.62L334.55 587.25L334.75 583.02L334.95 578.63L335.15 574.62L335.35 570.89L335.55 568.1L335.75 565.86L335.95 565.17L336.15 563.25L336.35 562.88L336.35 561.44L336.55 564.55L336.75 565.62L336.95 563.52L337.15 565.91L337.35 565.95L337.55 565.95L337.75 564.54L337.95 569.98L338.15 564.76L338.35 568.8L338.55 568.28L338.75 571.29L338.95 569.35L339.15 570.66L339.15 571.27L339.35 571.77L339.55 572.19L339.75 575.62L339.95 577.58L340.15 580.77L340.35 583.67L340.55 587.42L340.75 591.12L340.95 594.94L341.15 599.29L341.35 603.39L341.55 607.72L341.75 611.15L341.95 615.19L342.15 619.08L342.35 622.16L342.55 625.44L342.75 628.42L342.95 630.83L343.15 633.08L343.35 635.72L343.55 637.09L343.75 638.25L343.95 637.9L344.15 639.95L344.35 641.29L344.35 638.16L344.55 638.58L344.75 641.77L344.95 642.28L345.15 642.48L345.35 639.12L345.55 640.96L345.75 638.8L345.95 640.83L346.15 639.42L346.35 640.31L346.55 642.14L346.75 640.54L346.95 639.62L347.15 640.09L347.35 640.42L347.35 639.86L347.55 640.32L347.75 639.79L347.95 639.24L348.15 634.83L348.35 632.3L348.55 629.03L348.75 625.86L348.95 622.18L349.15 617.25L349.35 612.64L349.55 608.18L349.75 602.52L349.95 598.36L350.15 593.05L350.35 589.49L350.55 585.25L350.75 581.56L350.95 578.51L351.15 575.54L351.35 574.71L351.55 571.89L351.75 571.34L351.95 573.37L351.95 569.89L352.15 572.64L352.35 570.43L352.55 574.3L352.75 574.42L352.95 573.68L353.15 575.6L353.35 577.16L353.55 577.36L353.75 575.75L353.95 576.23L354.15 578.64L354.35 575.12L354.55 577.07L354.75 579.37L354.75 579.22L354.95 581.22L355.15 582.43L355.35 582.73L355.55 584.81L355.75 586.95L355.95 590.24L356.15 593.57L356.35 596.79L356.55 600.37L356.75 604.1L356.95 607.22L357.15 610.89L357.35 614.03L357.55 618.28L357.75 620.87L357.95 623.74L358.15 627.33L358.35 629.65L358.55 632.36L358.75 634.03L358.95 636.55L359.15 637.6L359.35 638.69L359.55 639.47L359.75 639.61L359.95 640.88L359.95 643.17L360.15 639.33L360.35 638.28L360.55 640.95L360.75 641.69L360.95 637.64L361.15 638.91L361.35 638.42L361.55 640.89L361.75 640.8L361.9 640L362.1 639.23L362.3 640.17L362.5 635.49L362.7 635.56L362.9 632.44L363.1 629.5L363.3 625.34L363.5 620.63L363.7 616.06L363.9 611.18L364.1 606.05L364.3 601.19L364.5 596.39L364.7 590.9L364.9 586.58L365.1 582.67L365.3 578.56L365.5 574.72L365.7 571.8L365.9 568.74L366.1 566.23L366.3 568.19L366.5 566.68L366.5 565.5L366.7 564.91L366.9 567.14L367.1 567.51L367.3 571.6L367.5 568.73L367.7 570.21L367.9 572.29L368.1 572.22L368.3 571.46L368.5 568.88L368.7 575.09L368.9 574.4L369.1 573.34L369.3 574.46L369.3 573.57L369.5 574.28L369.7 575.1L369.9 579.29L370.1 581.42L370.3 584.24L370.5 587.67L370.7 591.1L370.9 594.68L371.1 598.22L371.3 602.56L371.5 606.68L371.7 610.42L371.9 614.44L372.1 617.65L372.3 621.06L372.5 625.08L372.7 627.67L372.9 630.78L373.1 633.24L373.3 635.58L373.5 637.44L373.7 638.97L373.9 638.46L374.1 643.34L374.3 642.04L374.5 639.92L374.5 640.58L374.7 640.23L374.9 640.83L375.1 638L375.3 642.9L375.5 644.57L375.7 641.61L375.9 643.17L376.1 642.94L376.3 640.05L376.5 643.91L376.7 639.36L376.9 641.1L377.1 641.44L377.3 643.97L377.5 642.19L377.65 642.05L377.85 640.99L378.05 640.97L378.25 639.31L378.45 637.23L378.65 634.61L378.85 631.16L379.05 627.25L379.25 623.09L379.45 619.1L379.65 614.12L379.85 609.3L380.05 604.92L380.25 600.1L380.45 595.21L380.65 590.63L380.85 586.39L381.05 583.06L381.25 579.4L381.45 576.97L381.65 573.68L381.85 573.02L382.05 572.36L382.25 571.76L382.25 571.97L382.45 572.77L382.65 570.99L382.85 571.58L383.05 573.66L383.25 577.28L383.45 574.83L383.65 574.15L383.85 575.14L384.05 576.8L384.25 579.16L384.45 577L384.65 579.33L384.85 579.32L385.05 579.04L385.05 578.58L385.25 580.02L385.45 580.71L385.65 583.89L385.85 585.06L386.05 588.53L386.25 591.33L386.45 594.42L386.65 598L386.85 601.17L387.05 604L387.25 608.05L387.45 611.67L387.65 614.77L387.85 617.97L388.05 621.62L388.25 624.65L388.45 627.19L388.65 629.81L388.85 632.05L389.05 634.07L389.25 635.97L389.45 637.74L389.65 636.82L389.85 638.99L390.05 641.57L390.25 640.34L390.25 640.24L390.45 641.3L390.65 638.43L390.85 638.11L391.05 637.41L391.25 637.72L391.45 640.39L391.65 641.33L391.85 639.35L392.05 638.94L392.25 640.63L392.45 640.96L392.5 641.23L392.7 638.57L392.9 638.99L393.1 635.16L393.3 635.6L393.5 632.41L393.7 629L393.9 625.59L394.1 621.21L394.3 616.35L394.5 611.41L394.7 606.36L394.9 601.1L395.1 596.2L395.3 591.79L395.5 586.46L395.7 582.18L395.9 578.44L396.1 575.16L396.3 572.22L396.5 568.64L396.7 567.84L396.9 566.66L397.1 565.28L397.1 566.72L397.3 566.42L397.5 569.17L397.7 568.99L397.9 567.67L398.1 569.58L398.3 569.47L398.5 569.61L398.7 570.41L398.9 573.4L399.1 571.67L399.3 570.22L399.5 572.25L399.7 575.29L399.9 577.95L399.9 573.47L400.1 574.85L400.3 576.29L400.5 577.12L400.7 581.19L400.9 583.89L401.1 587.14L401.3 591.11L401.5 593.97L401.7 598L401.9 601.81L402.1 605.2L402.3 609.01L402.5 613.35L402.7 616.72L402.9 620L403.1 622.9L403.3 626.52L403.5 629.2L403.7 632.19L403.9 634.19L404.1 635.89L404.3 637.29L404.5 638.5L404.7 638.72L404.9 640.16L405.1 640.26L405.1 641.01L405.3 641.69L405.5 640.49L405.7 639.16L405.9 641.26L406.1 642.42L406.3 638.7L406.5 640.65L406.7 640.85L406.9 640.83L407.1 640.79L407.3 639.86L407.5 639.84L407.7 642.62L407.9 642.69L408.1 637.82L408.25 635.11L408.45 638L408.65 635.94L408.85 634.69L409.05 632.9L409.25 630.92L409.45 627.92L409.65 624.5L409.85 621.21L410.05 617.69L410.25 613.36L410.45 609.07L410.65 604.43L410.85 600.48L411.05 596.22L411.25 592.61L411.45 588.83L411.65 585.38L411.85 582.62L412.05 579.86L412.25 578.93L412.45 578.26L412.65 575.4L412.85 576.09L412.85 572.91L413.05 577.53L413.25 578.01L413.45 575.63L413.65 580.5L413.85 578.53L414.05 576.24L414.25 577.37L414.45 581.43L414.65 580.22L414.85 582.93L415.05 579.38L415.25 582.2L415.45 584.45L415.65 582.45L415.65 584.23L415.85 583.67L416.05 585.66L416.25 587.38L416.45 589.84L416.65 591.32L416.85 594.68L417.05 597.83L417.25 600.27L417.45 603.89L417.65 607.88L417.85 610.87L418.05 613.04L418.25 617.1L418.45 619.85L418.65 623.47L418.85 626.04L419.05 628.76L419.25 631.12L419.45 633.66L419.65 635.38L419.85 636.91L420.05 638.48L420.25 640.06L420.45 639.47L420.65 642.03L420.85 639.23L420.85 641.63L421.05 640.4L421.25 643.45L421.45 640L421.65 639.97L421.85 638.91L422.05 644.09L422.25 641.96L422.45 639.31L422.65 640.48L422.85 639.51L423.05 643.37L423.25 641.65L423.45 637.83L423.65 641.33L423.85 642.42L424.05 641L424.25 641.74L424.3 641.62L424.5 641.63L424.7 640.64L424.9 638.04L425.1 636.64L425.3 633.8L425.5 630.44L425.7 626.51L425.9 622.29L426.1 618.14L426.3 613.61L426.5 608.01L426.7 603.61L426.9 599.26L427.1 594.48L427.3 589.63L427.5 585.99L427.7 581.65L427.9 578.39L428.1 576.25L428.3 573.08L428.5 571.69L428.7 569.17L428.9 569.52L428.9 568.77L429.1 570.96L429.3 568.89L429.5 573.97L429.7 572.33L429.9 572.51L430.1 573.04L430.3 575.76L430.5 577.56L430.7 575.11L430.9 578.82L431.1 579.39L431.3 579.55L431.5 578.49L431.7 576.28L431.7 579.32L431.9 578.76L432.1 580.72L432.3 580.36L432.5 584.59L432.7 587.41L432.9 590.02L433.1 593.58L433.3 597.35L433.5 600.42L433.7 603.72L433.9 608.2L434.1 610.44L434.3 614.29L434.5 618.06L434.7 621.01L434.9 623.58L435.1 627.18L435.3 629.96L435.5 631.84L435.7 634.57L435.9 636.06L436.1 637.73L436.3 636.89L436.5 639.34L436.7 641.55L436.9 642.16L436.9 642.05L437.1 640L437.3 640.29L437.5 639.02L437.7 641.71L437.9 638.92L438.1 640.19L438.3 636.78L438.5 637.65L438.7 642.77L438.9 640.09L439.1 640.34L439.3 636.58L439.5 639.95L439.7 643.23L439.9 637.67L440.1 636.29L440.3 639.75L440.5 639.17L440.6 638.95L440.8 637.51L441 636.46L441.2 635.05L441.4 634.41L441.6 631.58L441.8 628.65L442 624.61L442.2 621.07L442.4 616.59L442.6 612.28L442.8 607.92L443 603.09L443.2 598.43L443.4 593.67L443.6 589.86L443.8 586.09L444 582.17L444.2 579.16L444.4 576.09L444.6 572.96L444.8 573.29L445 573.31L445.2 571.27L445.2 568.98L445.4 571.58L445.6 570.29L445.8 572.88L446 576.91L446.2 574.93L446.4 574.79L446.6 577.22L446.8 575.58L447 577.26L447.2 577.63L447.4 578.58L447.6 576.15L447.8 580.14L448 580.98L448 577.14L448.2 577.28L448.4 580.58L448.6 585.05L448.8 585.78L449 588.68L449.2 591.65L449.4 594.99L449.6 597.97L449.8 601.53L450 605.44L450.2 609.15L450.4 612.76L450.6 616.24L450.8 619.44L451 623.2L451.2 626.13L451.4 629.2L451.6 630.8L451.8 634.24L452 635.33L452.2 637.91L452.4 639.14L452.6 640.63L452.8 640.82L453 641.5L453.2 642.21L453.2 642.55L453.4 640.74L453.6 638.01L453.8 640.77L454 642.85L454.2 640.67L454.4 642.68L454.6 641.42L454.8 640.51L455 643.84L455.2 644.61L455.4 641.84L455.5 641.78L455.7 642.55L455.9 639.11L456.1 638.02L456.3 637.08L456.5 634.29L456.7 630.73L456.9 626.99L457.1 623.23L457.3 618.46L457.5 614.14L457.7 609.52L457.9 604.25L458.1 600.32L458.3 595.81L458.5 591.56L458.7 586.9L458.9 583.27L459.1 580.16L459.3 577.32L459.5 577.7L459.7 572.82L459.9 572.58L460.1 572.82L460.1 573.32L460.3 575.47L460.5 572.02L460.7 575.71L460.9 575.12L461.1 573.6L461.3 576.27L461.5 574.38L461.7 579.74L461.9 576.59L462.1 579.91L462.3 580.95L462.5 578.48L462.7 578.6L462.9 580.81L462.9 579.46L463.1 582.17L463.3 582.68L463.5 583.48L463.7 586.37L463.9 589.41L464.1 591.67L464.3 595.75L464.5 598.33L464.7 601.94L464.9 605.23L465.1 609.52L465.3 612.78L465.5 616.36L465.7 619.5L465.9 622.52L466.1 626.01L466.3 628.51L466.5 631.01L466.7 633.37L466.9 635.46L467.1 637.07L467.3 638.38L467.5 637.81L467.7 642.61L467.9 639.42L468.1 638.64L468.1 639.86L468.3 644.08L468.5 642.94L468.7 640.04L468.9 641.42L469.1 640.96L469.3 637.84L469.5 640.47L469.7 641.47L469.9 642.87L470.1 639.08L470.3 637.4L470.5 638.49L470.7 641.53L470.9 641.13L471.1 641.24L471.3 641.24L471.5 640.42L471.7 638.82L471.9 641.72L472.1 641.62L472.15 642.25L472.35 642.67L472.55 639.01L472.75 636.27L472.95 636.29L473.15 634.62L473.35 630.74L473.55 627.51L473.75 623.49L473.95 619.48L474.15 615.69L474.35 610.22L474.55 605.73L474.75 601.08L474.95 596.88L475.15 592.75L475.35 588.46L475.55 585.48L475.75 582.31L475.95 579.5L476.15 577.16L476.35 575.48L476.55 573.01L476.75 575.22L476.75 572.94L476.95 574.27L477.15 577.24L477.35 574.74L477.55 575.95L477.75 578.73L477.95 580.9L478.15 577.4L478.35 580.84L478.55 578.6L478.75 580.84L478.95 581.56L479.15 579.54L479.35 583.57L479.55 585.38L479.55 582.56L479.75 583.37L479.95 583.07L480.15 588.12L480.35 588.41L480.55 590.59L480.75 594.06L480.95 596.49L481.15 599.99L481.35 602.94L481.55 607.45L481.75 611.17L481.95 613.77L482.15 617.15L482.35 620.45L482.55 623.6L482.75 626.9L482.95 629.94L483.15 631.73L483.35 634.45L483.55 635.78L483.75 638.5L483.95 639.44L484.15 639.8L484.35 643.05L484.55 641.73L484.75 643.51L484.75 643.72L484.95 644.65L485.15 640.72L485.35 642.09L485.55 642.59L485.75 641.69L485.95 644.44L486.15 640.86L486.35 643.6L486.55 644.18L486.75 638.87L486.95 640.45L487.15 640.55L487.35 641.13L487.55 642.62L487.75 641.72L487.75 641.81L487.95 640.92L488.15 640.44L488.35 639.6L488.55 637.23L488.75 634.32L488.95 631.5L489.15 627.94L489.35 624.34L489.55 620.01L489.75 616.38L489.95 611.97L490.15 607.39L490.35 602.91L490.55 598.74L490.75 594.67L490.95 590.71L491.15 588.1L491.35 585.52L491.55 581.87L491.75 578.87L491.95 579.33L492.15 578.47L492.35 575.77L492.35 574.43L492.55 578.94L492.75 575.46L492.95 581.49L493.15 578.99L493.35 580.49L493.55 580.92L493.75 580.6L493.95 581.84L494.15 582.16L494.35 585.21L494.55 583.64L494.75 584.31L494.95 584.08L495.15 584.49L495.15 584.69L495.35 586.04L495.55 589.22L495.75 590.08L495.95 590.96L496.15 593.76L496.35 596.19L496.55 598.78L496.75 601.66L496.95 604.48L497.15 608.05L497.35 611.06L497.55 613.84L497.75 617.03L497.95 621L498.15 623.36L498.35 626.17L498.55 628.61L498.75 630.73L498.95 633.1L499.15 635.13L499.35 636.28L499.55 637.83L499.75 639.82L499.95 638.89L500.15 640.04L500.35 639.19L502.7 645" fill="none" stroke="#141414" stroke-width="1.45" stroke-linejoin="round"/>
<text x="491.9" y="660.8" font-size="12" text-anchor="middle" font-weight="normal" fill="#000">5s</text>
<line x1="463.2" y1="666.4" x2="498.2" y2="666.4" stroke="#555" stroke-width="1.2"/>
<text x="1.5" y="730" font-size="21" text-anchor="start" font-weight="bold" fill="#000">D</text>
<text x="18.6" y="805.8" font-size="12" text-anchor="middle" font-weight="normal" fill="#000" transform="rotate(-90 18.6 805.8)">RFP/GFP ratio</text>
<path d="M32.4 852.16L33.16 851.48L34.22 852.24L35.46 850.94L36.76 852.28L38 851.01L39.16 850.72L40.32 850.78L41.51 851.84L42.73 851.04L44 852.68L45.42 852.43L46.97 852.08L48.51 850.96L49.9 851.68L51 850.86L51.7 849.61L52.11 850.21L52.37 850.31L52.62 847.38L53 846.49L53.53 844.56L54.1 840.55L54.72 837.96L55.35 835.23L56 832.28L56.67 828.22L57.36 825.83L58.08 822.36L58.79 819.74L59.5 815.04L60.2 812.55L60.9 809.48L61.6 806.55L62.3 804.23L63 800.62L63.72 799.99L64.45 795.37L65.17 793.87L65.86 791.71L66.5 789.58L67.07 786.97L67.6 784.87L68.08 783.64L68.55 782.74L69 781.07L69.43 780.15L69.84 779.1L70.22 777.29L70.61 776.36L71 776.86L71.4 774.75L71.8 773.13L72.2 774.26L72.6 771.78L73 770.94L73.38 771.4L73.75 769.54L74.13 769.16L74.54 769.84L75 768.31L75.52 769.94L76.08 768.17L76.68 769.47L77.32 767.76L78 767.63L78.75 767.25L79.57 767.63L80.41 767.67L81.24 768.21L82 768.96L82.67 768.05L83.27 768.63L83.86 768.32L84.48 770.87L85.2 770.26L86 770.55L86.84 770.73L87.75 771.57L88.73 771.39L89.8 772.01L90.99 771.81L92.3 772.32L93.66 772.88L95.05 772.31L96.4 774.55L97.72 773.37L99.04 774.1L100.35 775.47L101.67 775.49L103 776.39L104.36 777.4L105.74 777.98L107.12 778.22L108.45 777.83L109.7 779.83L110.85 778.8L111.94 780.08L112.97 781.58L113.98 781.69L115 782.53L116.02 783.1L117.03 784.81L118.03 783.17L119.02 786.08L120 786.64L121 786.67L122.03 787.79L123.03 787.61L123.97 789.58L124.8 791.44L125.5 789.66L126.09 791.59L126.62 791.27L127.11 791.69L127.6 792.31L128.07 793.29L128.49 793.52L128.9 794.41L129.32 797.26L129.8 797.39L130.35 799.04L130.95 800.35L131.57 801.98L132.17 802.28L132.7 804.03L133.16 806.25L133.56 807.68L133.94 807.56L134.31 809.06L134.7 809.96L135.1 812.24L135.5 813.33L135.9 814.42L136.3 815.24L136.7 817.01L137.07 817.88L137.4 818.38L137.75 819.96L138.17 820.34L138.7 822.37L139.36 823.36L140.12 823.82L140.95 825.88L141.85 826.87L142.8 827.68L143.84 828.82L144.98 829.68L146.16 831.27L147.32 833.35L148.4 834.92L149.37 834.71L150.28 835.95L151.16 836.74L152.06 837.63L153 838.07L153.97 839.16L154.95 839.47L155.96 839.12L157.04 840.38L158.2 839.29L159.47 841.17L160.83 841.87L162.26 842.78L163.72 842.81L165.2 844L166.83 844.79L168.64 843.99L170.4 844.62L171.93 845.48L173 845.89" fill="none" stroke="#e2ad84" stroke-width="2.3" stroke-linejoin="round"/>
<path d="M32.4 851.91L33.16 852.33L34.22 850.67L35.46 851.98L36.76 852.14L38 852.03L39.16 851.55L40.32 851.14L41.51 851.74L42.73 851.49L44 850.41L45.4 851.21L46.92 851.74L48.44 851.43L49.84 850.99L51 851.13L51.86 850.42L52.49 850.01L52.99 848.95L53.46 847.83L54 846.74L54.59 843.88L55.18 841.38L55.76 837.17L56.37 832.79L57 831.7L57.67 829.56L58.36 825.77L59.08 822.51L59.79 819.02L60.5 817.67L61.2 813.68L61.91 811.32L62.61 809.11L63.31 805.93L64 804.68L64.68 800.61L65.35 799.33L66.02 797.18L66.67 794.32L67.3 793.04L67.92 790.82L68.52 788.79L69.11 788.18L69.67 785.86L70.2 786.26L70.68 783.1L71.13 782L71.55 781.3L71.97 779.72L72.4 779.04L72.84 777.46L73.27 775.8L73.71 774.05L74.15 773.93L74.6 775.14L75.06 773.47L75.52 772.41L75.99 771.17L76.48 770.73L77 770.52L77.56 768.87L78.17 769.04L78.79 768.81L79.4 770.35L80 768.61L80.58 770.37L81.15 769.34L81.72 772.01L82.27 770.22L82.8 770.62L83.29 771.93L83.75 771.92L84.19 772.34L84.67 771.28L85.2 773.45L85.8 774.49L86.46 773.89L87.14 774.39L87.83 774.73L88.5 777.06L89.16 777.22L89.82 777.68L90.48 777.42L91.14 780.26L91.8 780.46L92.47 780.62L93.15 782.64L93.82 781.74L94.48 784.02L95.1 783.45L95.68 786L96.23 785.41L96.76 787.19L97.28 786.67L97.8 788.1L98.34 789.61L98.88 789.13L99.41 790.98L99.92 791.39L100.4 793.74L100.84 793.69L101.24 794.89L101.63 796.05L102.01 798.12L102.4 797.52L102.8 799.37L103.2 800.25L103.61 801.2L104.01 802.12L104.4 803.68L104.78 804.97L105.15 804.63L105.52 806.94L105.9 806.93L106.3 809.01L106.73 812.04L107.18 811.05L107.64 813.25L108.11 814.7L108.6 817.24L109.1 817.85L109.63 818.67L110.16 820.63L110.69 823.73L111.2 825.39L111.69 827.43L112.16 827.55L112.63 829.69L113.1 829.56L113.6 832.47L114.09 832.52L114.56 833.06L115.06 834.65L115.63 836.79L116.3 835.86L117.12 836.69L118.06 838.05L119.06 839.14L120.06 841.09L121 842.36L121.82 842.8L122.55 843.78L123.29 845.15L124.14 844.59L125.2 844.36L126.5 843.99L127.99 846.18L129.6 845.74L131.26 846.31L132.9 847.11L134.56 847.55L136.29 846.49L138.03 847.42L139.72 848.59L141.3 848.69L142.76 849.76L144.14 848.5L145.45 847.24L146.73 849.55L148 847.37L149.21 847.79L150.34 848.7L151.46 847.51L152.66 850.15L154 848.58L155.46 849.14L156.99 848.92L158.62 851.48L160.41 850.72L162.4 850.06L164.85 851.56L167.74 849.19L170.67 849.77L173.22 850.17L175 849.9" fill="none" stroke="#8a8a8a" stroke-width="2.3" stroke-linejoin="round"/>
<path d="M32.4 851.32L33.16 852.49L34.22 852.29L35.46 850.93L36.76 851.45L38 850.88L39.16 851.01L40.32 851.81L41.51 851.51L42.73 851.49L44 851.65L45.41 851.08L46.94 852.38L48.48 851.44L49.87 852.35L51 851.07L51.78 850.47L52.3 850.7L52.68 849.08L53.04 847.38L53.5 845.73L54.06 844.08L54.64 842.03L55.24 838.43L55.86 834.84L56.5 831.44L57.17 828.64L57.86 825.8L58.58 822.82L59.29 819.23L60 817.14L60.7 813L61.41 810.1L62.11 807.75L62.81 804.9L63.5 801.8L64.18 800.01L64.86 796.5L65.53 795.83L66.18 794.05L66.8 791.98L67.4 789.24L67.98 788.47L68.55 785.94L69.09 785.09L69.6 782.9L70.08 781.75L70.53 780.67L70.96 778.36L71.38 778L71.8 777.86L72.21 774.44L72.61 775.01L73.01 774.25L73.4 773.01L73.8 772.1L74.19 771.96L74.58 770.8L74.97 769.14L75.37 769.14L75.8 769.05L76.25 768.93L76.71 768.37L77.19 768.34L77.69 769.1L78.2 766.73L78.74 768.79L79.31 768.79L79.88 768.78L80.45 768.69L81 768.93L81.53 769.34L82.05 769.58L82.55 769.42L83.04 770.5L83.5 769.99L83.96 770.66L84.43 770.78L84.87 770.65L85.24 771.74L85.5 771.57" fill="none" stroke="#5a2c0e" stroke-width="1.7" stroke-linejoin="round"/>
<line x1="152.9" y1="774.2" x2="173.7" y2="774.2" stroke="#bdbdbd" stroke-width="3.4"/>
<text x="176.2" y="778.8" font-size="12" text-anchor="start" font-weight="normal" fill="#000">Control</text>
<line x1="152.3" y1="797" x2="173.7" y2="797" stroke="#e9b892" stroke-width="3.4"/>
<text x="177.2" y="802.2" font-size="12" text-anchor="start" font-weight="normal" fill="#000" textLength="70.2">15 nM E4301</text>
<text x="125.2" y="866.7" font-size="12" text-anchor="middle" font-weight="normal" fill="#000">200 ms</text>
<line x1="96.3" y1="873.6" x2="157.7" y2="873.6" stroke="#8a8a8a" stroke-width="1.5"/>
<line x1="339.6" y1="757.6" x2="339.6" y2="863.6" stroke="#333" stroke-width="1.2"/>
<line x1="339" y1="863" x2="523.3" y2="863" stroke="#333" stroke-width="1.2"/>
<line x1="336" y1="863" x2="339.6" y2="863" stroke="#000" stroke-width="1"/>
<text x="335.4" y="865.9" font-size="8" text-anchor="end" font-weight="normal" fill="#000">0</text>
<line x1="336" y1="836.8" x2="339.6" y2="836.8" stroke="#000" stroke-width="1"/>
<text x="335.4" y="839.7" font-size="8" text-anchor="end" font-weight="normal" fill="#000">400</text>
<line x1="336" y1="810.6" x2="339.6" y2="810.6" stroke="#000" stroke-width="1"/>
<text x="335.4" y="813.5" font-size="8" text-anchor="end" font-weight="normal" fill="#000">800</text>
<line x1="336" y1="784.4" x2="339.6" y2="784.4" stroke="#000" stroke-width="1"/>
<text x="335.4" y="787.3" font-size="8" text-anchor="end" font-weight="normal" fill="#000">1200</text>
<line x1="336" y1="758.2" x2="339.6" y2="758.2" stroke="#000" stroke-width="1"/>
<text x="335.4" y="761.1" font-size="8" text-anchor="end" font-weight="normal" fill="#000">1600</text>
<text x="309.3" y="811.9" font-size="11.6" text-anchor="middle" font-weight="normal" fill="#000" transform="rotate(-90 309.3 811.9)">Duration (ms)</text>
<rect x="353.1" y="823.9" width="23.8" height="39.1" fill="#ffffff" stroke="#000" stroke-width="1.4"/>
<rect x="391.6" y="784.6" width="24" height="78.4" fill="#b8958b" stroke="#8b1c1c" stroke-width="1.2"/>
<rect x="447.2" y="830.9" width="23.8" height="32.1" fill="#ffffff" stroke="#000" stroke-width="1.4"/>
<rect x="485.4" y="810.4" width="23.8" height="52.6" fill="#b8958b" stroke="#8b1c1c" stroke-width="1.2"/>
<g fill="#000"><rect x="363.98" y="812.62" width="1.2" height="1.2"/><rect x="366.72" y="818" width="1.2" height="1.2"/><rect x="371.34" y="815.59" width="1.2" height="1.2"/><rect x="360.33" y="821.06" width="1.2" height="1.2"/><rect x="354.44" y="823.86" width="1.2" height="1.2"/><rect x="375.21" y="804.13" width="1.2" height="1.2"/><rect x="353.84" y="819.66" width="1.2" height="1.2"/><rect x="354.84" y="819.87" width="1.2" height="1.2"/><rect x="363.94" y="821.55" width="1.2" height="1.2"/><rect x="372.45" y="822.54" width="1.2" height="1.2"/><rect x="368.41" y="818.36" width="1.2" height="1.2"/><rect x="359.76" y="817.69" width="1.2" height="1.2"/><rect x="369.43" y="822.53" width="1.2" height="1.2"/><rect x="358.67" y="821.28" width="1.2" height="1.2"/><rect x="362.51" y="827.98" width="1.2" height="1.2"/><rect x="362.2" y="816" width="1.2" height="1.2"/><rect x="358.22" y="812.1" width="1.2" height="1.2"/><rect x="364.07" y="811.85" width="1.2" height="1.2"/><rect x="367.66" y="810.29" width="1.2" height="1.2"/><rect x="359.57" y="822.48" width="1.2" height="1.2"/><rect x="370.56" y="816.13" width="1.2" height="1.2"/><rect x="359.04" y="830.91" width="1.2" height="1.2"/><rect x="357.5" y="828.48" width="1.2" height="1.2"/><rect x="363.57" y="824.26" width="1.2" height="1.2"/><rect x="367.98" y="821.25" width="1.2" height="1.2"/><rect x="362.97" y="819.29" width="1.2" height="1.2"/><rect x="371.58" y="820.11" width="1.2" height="1.2"/><rect x="373.41" y="832.59" width="1.2" height="1.2"/><rect x="367.94" y="815.01" width="1.2" height="1.2"/><rect x="375.76" y="826.58" width="1.2" height="1.2"/><rect x="360.9" y="821.12" width="1.2" height="1.2"/><rect x="355.15" y="828.72" width="1.2" height="1.2"/><rect x="367.03" y="818.78" width="1.2" height="1.2"/><rect x="363.7" y="819.94" width="1.2" height="1.2"/><rect x="373" y="804.85" width="1.2" height="1.2"/><rect x="356.97" y="822.06" width="1.2" height="1.2"/><rect x="357.77" y="813.72" width="1.2" height="1.2"/><rect x="374.66" y="818.6" width="1.2" height="1.2"/><rect x="367.08" y="829.76" width="1.2" height="1.2"/><rect x="355.84" y="818.82" width="1.2" height="1.2"/><rect x="369.35" y="824.51" width="1.2" height="1.2"/><rect x="372.03" y="820.78" width="1.2" height="1.2"/><rect x="369.71" y="820.8" width="1.2" height="1.2"/><rect x="358.64" y="824.01" width="1.2" height="1.2"/><rect x="359.8" y="824.98" width="1.2" height="1.2"/><rect x="358.09" y="805.93" width="1.2" height="1.2"/><rect x="354.86" y="820.95" width="1.2" height="1.2"/><rect x="361.8" y="826.03" width="1.2" height="1.2"/><rect x="373.55" y="824.2" width="1.2" height="1.2"/><rect x="368.28" y="815.84" width="1.2" height="1.2"/><rect x="354.29" y="819.51" width="1.2" height="1.2"/><rect x="373.98" y="820.33" width="1.2" height="1.2"/><rect x="367.81" y="822.35" width="1.2" height="1.2"/><rect x="369.94" y="821.3" width="1.2" height="1.2"/><rect x="365.79" y="823.16" width="1.2" height="1.2"/><rect x="373.75" y="821.49" width="1.2" height="1.2"/><rect x="374.09" y="819.36" width="1.2" height="1.2"/><rect x="368.92" y="814.36" width="1.2" height="1.2"/><rect x="371.29" y="815.94" width="1.2" height="1.2"/><rect x="366.39" y="807.86" width="1.2" height="1.2"/><rect x="367.2" y="817.4" width="1.2" height="1.2"/><rect x="367.89" y="825.24" width="1.2" height="1.2"/><rect x="362.24" y="818.46" width="1.2" height="1.2"/><rect x="366.57" y="816.85" width="1.2" height="1.2"/><rect x="370.38" y="822.43" width="1.2" height="1.2"/><rect x="367.03" y="820.01" width="1.2" height="1.2"/><rect x="364.69" y="822.31" width="1.2" height="1.2"/><rect x="374.21" y="827.95" width="1.2" height="1.2"/><rect x="368.76" y="825.05" width="1.2" height="1.2"/><rect x="357.32" y="821.75" width="1.2" height="1.2"/><rect x="373.56" y="808.82" width="1.2" height="1.2"/><rect x="368.48" y="817.67" width="1.2" height="1.2"/><rect x="374.07" y="814.6" width="1.2" height="1.2"/><rect x="362.15" y="816.19" width="1.2" height="1.2"/><rect x="364.67" y="820.58" width="1.2" height="1.2"/><rect x="372.6" y="814.72" width="1.2" height="1.2"/><rect x="357.31" y="824.72" width="1.2" height="1.2"/><rect x="359.69" y="820.46" width="1.2" height="1.2"/><rect x="364.61" y="816.45" width="1.2" height="1.2"/><rect x="372.38" y="824.53" width="1.2" height="1.2"/><rect x="354.21" y="809.93" width="1.2" height="1.2"/><rect x="354.43" y="812.64" width="1.2" height="1.2"/><rect x="371.31" y="818.24" width="1.2" height="1.2"/><rect x="356.56" y="819.95" width="1.2" height="1.2"/><rect x="358.84" y="829.31" width="1.2" height="1.2"/><rect x="354.56" y="822.72" width="1.2" height="1.2"/><rect x="368.24" y="815.91" width="1.2" height="1.2"/><rect x="375.07" y="814.56" width="1.2" height="1.2"/><rect x="357.52" y="822.99" width="1.2" height="1.2"/><rect x="364.12" y="826.03" width="1.2" height="1.2"/><rect x="361.28" y="822.94" width="1.2" height="1.2"/><rect x="365.21" y="824.52" width="1.2" height="1.2"/><rect x="371.32" y="821.66" width="1.2" height="1.2"/><rect x="355.46" y="806.5" width="1.2" height="1.2"/><rect x="363.7" y="811.5" width="1.2" height="1.2"/><rect x="373.97" y="819.32" width="1.2" height="1.2"/><rect x="371.43" y="813.66" width="1.2" height="1.2"/><rect x="363.93" y="807.26" width="1.2" height="1.2"/><rect x="371.91" y="823.38" width="1.2" height="1.2"/><rect x="369.65" y="827.95" width="1.2" height="1.2"/><rect x="375.49" y="831.03" width="1.2" height="1.2"/><rect x="371.29" y="814.57" width="1.2" height="1.2"/><rect x="361.34" y="828.48" width="1.2" height="1.2"/><rect x="363.42" y="817.07" width="1.2" height="1.2"/><rect x="354.14" y="822.06" width="1.2" height="1.2"/><rect x="354.94" y="805.68" width="1.2" height="1.2"/><rect x="371.23" y="823.27" width="1.2" height="1.2"/><rect x="356.85" y="824.86" width="1.2" height="1.2"/><rect x="369.01" y="820.17" width="1.2" height="1.2"/><rect x="364.58" y="801.62" width="1.2" height="1.2"/><rect x="365.35" y="815.34" width="1.2" height="1.2"/><rect x="369.9" y="823.03" width="1.2" height="1.2"/><rect x="366.1" y="813.49" width="1.2" height="1.2"/><rect x="362.08" y="820.35" width="1.2" height="1.2"/><rect x="372.64" y="815.05" width="1.2" height="1.2"/><rect x="365.3" y="809.8" width="1.2" height="1.2"/><rect x="364.82" y="823.08" width="1.2" height="1.2"/><rect x="354.12" y="826.46" width="1.2" height="1.2"/><rect x="371.52" y="806.46" width="1.2" height="1.2"/><rect x="364.55" y="821.07" width="1.2" height="1.2"/><rect x="362.81" y="826.28" width="1.2" height="1.2"/><rect x="374.28" y="814.75" width="1.2" height="1.2"/><rect x="363.26" y="819.34" width="1.2" height="1.2"/><rect x="373.76" y="812.48" width="1.2" height="1.2"/><rect x="367.4" y="820.38" width="1.2" height="1.2"/><rect x="356.41" y="815.27" width="1.2" height="1.2"/><rect x="358.61" y="824.23" width="1.2" height="1.2"/><rect x="360.75" y="821.89" width="1.2" height="1.2"/><rect x="369.95" y="820.06" width="1.2" height="1.2"/><rect x="364.99" y="820.15" width="1.2" height="1.2"/><rect x="363.33" y="823.17" width="1.2" height="1.2"/><rect x="362.8" y="826.39" width="1.2" height="1.2"/><rect x="367.7" y="823.03" width="1.2" height="1.2"/><rect x="365.42" y="823.89" width="1.2" height="1.2"/><rect x="358.73" y="803.72" width="1.2" height="1.2"/><rect x="371.74" y="816.15" width="1.2" height="1.2"/><rect x="374.26" y="810.08" width="1.2" height="1.2"/><rect x="375.96" y="824.84" width="1.2" height="1.2"/><rect x="369.85" y="814.71" width="1.2" height="1.2"/><rect x="355.68" y="823.82" width="1.2" height="1.2"/><rect x="356.34" y="803.44" width="1.2" height="1.2"/><rect x="368.92" y="825.01" width="1.2" height="1.2"/><rect x="374.01" y="823.43" width="1.2" height="1.2"/><rect x="356.1" y="819.94" width="1.2" height="1.2"/><rect x="368.93" y="821.75" width="1.2" height="1.2"/><rect x="355.09" y="816.54" width="1.2" height="1.2"/><rect x="365.08" y="826.67" width="1.2" height="1.2"/><rect x="356.8" y="822.74" width="1.2" height="1.2"/><rect x="375.78" y="823.8" width="1.2" height="1.2"/><rect x="355.64" y="822.09" width="1.2" height="1.2"/><rect x="370.71" y="825.96" width="1.2" height="1.2"/><rect x="364.01" y="820.1" width="1.2" height="1.2"/><rect x="353.8" y="816.35" width="1.2" height="1.2"/><rect x="372.5" y="823.92" width="1.2" height="1.2"/><rect x="362.62" y="814.9" width="1.2" height="1.2"/><rect x="357.21" y="823.47" width="1.2" height="1.2"/><rect x="371.54" y="830.34" width="1.2" height="1.2"/><rect x="372.87" y="822.36" width="1.2" height="1.2"/><rect x="364.85" y="816.81" width="1.2" height="1.2"/><rect x="371.61" y="816.2" width="1.2" height="1.2"/><rect x="371" y="827.39" width="1.2" height="1.2"/><rect x="362.63" y="807.19" width="1.2" height="1.2"/><rect x="370.76" y="818.17" width="1.2" height="1.2"/><rect x="362.63" y="817.07" width="1.2" height="1.2"/><rect x="364.05" y="824.97" width="1.2" height="1.2"/><rect x="361.5" y="823.15" width="1.2" height="1.2"/><rect x="374.76" y="819.33" width="1.2" height="1.2"/><rect x="361.1" y="819.35" width="1.2" height="1.2"/><rect x="362.27" y="816.8" width="1.2" height="1.2"/><rect x="367.95" y="809.13" width="1.2" height="1.2"/><rect x="354.01" y="822.37" width="1.2" height="1.2"/><rect x="370.12" y="809.78" width="1.2" height="1.2"/><rect x="357.9" y="820.4" width="1.2" height="1.2"/><rect x="355.72" y="822.28" width="1.2" height="1.2"/><rect x="364.93" y="825.9" width="1.2" height="1.2"/><rect x="366.28" y="808.12" width="1.2" height="1.2"/><rect x="355.21" y="805.52" width="1.2" height="1.2"/><rect x="370.58" y="815.67" width="1.2" height="1.2"/><rect x="364.11" y="823.74" width="1.2" height="1.2"/><rect x="364.65" y="820.45" width="1.2" height="1.2"/><rect x="362.97" y="830.95" width="1.2" height="1.2"/><rect x="366.95" y="825.14" width="1.2" height="1.2"/><rect x="366.11" y="820.13" width="1.2" height="1.2"/><rect x="369.62" y="827.47" width="1.2" height="1.2"/><rect x="354.46" y="824.64" width="1.2" height="1.2"/><rect x="370.48" y="821.78" width="1.2" height="1.2"/><rect x="354.63" y="827.08" width="1.2" height="1.2"/><rect x="374.75" y="806.52" width="1.2" height="1.2"/><rect x="364.25" y="825.19" width="1.2" height="1.2"/><rect x="358.98" y="808.74" width="1.2" height="1.2"/><rect x="364.04" y="827.71" width="1.2" height="1.2"/><rect x="371.88" y="808.62" width="1.2" height="1.2"/><rect x="363.75" y="825.91" width="1.2" height="1.2"/><rect x="354.67" y="825.39" width="1.2" height="1.2"/><rect x="368.53" y="824.73" width="1.2" height="1.2"/><rect x="359.4" y="824.7" width="1.2" height="1.2"/><rect x="365.44" y="815.13" width="1.2" height="1.2"/><rect x="374.93" y="816.62" width="1.2" height="1.2"/><rect x="373.59" y="821.65" width="1.2" height="1.2"/><rect x="367.56" y="823.56" width="1.2" height="1.2"/><rect x="366.21" y="820.64" width="1.2" height="1.2"/><rect x="367.74" y="827.83" width="1.2" height="1.2"/><rect x="375.54" y="822.67" width="1.2" height="1.2"/><rect x="373.27" y="815.87" width="1.2" height="1.2"/><rect x="363.07" y="824.6" width="1.2" height="1.2"/><rect x="355.81" y="822.74" width="1.2" height="1.2"/><rect x="368.72" y="823.1" width="1.2" height="1.2"/><rect x="367.7" y="822.29" width="1.2" height="1.2"/><rect x="361.23" y="818.64" width="1.2" height="1.2"/><rect x="372.37" y="821.89" width="1.2" height="1.2"/><rect x="367.53" y="827.08" width="1.2" height="1.2"/><rect x="358.3" y="826.73" width="1.2" height="1.2"/><rect x="361.8" y="821.11" width="1.2" height="1.2"/><rect x="375.76" y="829.14" width="1.2" height="1.2"/><rect x="374.22" y="814.87" width="1.2" height="1.2"/><rect x="361.81" y="819.41" width="1.2" height="1.2"/><rect x="355.37" y="822.7" width="1.2" height="1.2"/><rect x="364.41" y="820.3" width="1.2" height="1.2"/><rect x="355.21" y="819.31" width="1.2" height="1.2"/><rect x="368.4" y="828.42" width="1.2" height="1.2"/><rect x="369.11" y="819.26" width="1.2" height="1.2"/><rect x="356.72" y="827.87" width="1.2" height="1.2"/><rect x="356.14" y="820.9" width="1.2" height="1.2"/><rect x="366.31" y="817.53" width="1.2" height="1.2"/><rect x="363.35" y="823.31" width="1.2" height="1.2"/><rect x="360.36" y="807.52" width="1.2" height="1.2"/><rect x="373.63" y="813.58" width="1.2" height="1.2"/><rect x="361.64" y="827.29" width="1.2" height="1.2"/><rect x="362.22" y="818.75" width="1.2" height="1.2"/><rect x="366.19" y="824.69" width="1.2" height="1.2"/><rect x="366.16" y="813.77" width="1.2" height="1.2"/><rect x="370.58" y="819.49" width="1.2" height="1.2"/><rect x="365.1" y="811.77" width="1.2" height="1.2"/><rect x="366.27" y="822.37" width="1.2" height="1.2"/><rect x="354.94" y="806.22" width="1.2" height="1.2"/><rect x="371.23" y="815.33" width="1.2" height="1.2"/><rect x="373.73" y="827.48" width="1.2" height="1.2"/><rect x="367.77" y="824.87" width="1.2" height="1.2"/><rect x="359.02" y="821.34" width="1.2" height="1.2"/><rect x="370.72" y="815.42" width="1.2" height="1.2"/><rect x="361.1" y="821.89" width="1.2" height="1.2"/><rect x="368.63" y="806.52" width="1.2" height="1.2"/><rect x="369.43" y="814.97" width="1.2" height="1.2"/><rect x="362.74" y="809.96" width="1.2" height="1.2"/><rect x="371.63" y="806.61" width="1.2" height="1.2"/><rect x="373.49" y="802.66" width="1.2" height="1.2"/><rect x="369.48" y="807.74" width="1.2" height="1.2"/><rect x="362.99" y="806.83" width="1.2" height="1.2"/><rect x="375.8" y="825.69" width="1.2" height="1.2"/><rect x="357.27" y="826.99" width="1.2" height="1.2"/><rect x="375.32" y="818.39" width="1.2" height="1.2"/><rect x="360.44" y="823.09" width="1.2" height="1.2"/><rect x="357.54" y="817.16" width="1.2" height="1.2"/><rect x="363.82" y="815.68" width="1.2" height="1.2"/><rect x="355.95" y="822.46" width="1.2" height="1.2"/><rect x="358.39" y="820.88" width="1.2" height="1.2"/><rect x="358.54" y="820.35" width="1.2" height="1.2"/><rect x="359.82" y="815.97" width="1.2" height="1.2"/><rect x="365.84" y="821.67" width="1.2" height="1.2"/><rect x="364.29" y="807.25" width="1.2" height="1.2"/><rect x="361.2" y="828.58" width="1.2" height="1.2"/><rect x="375.03" y="815.45" width="1.2" height="1.2"/><rect x="374.82" y="821.74" width="1.2" height="1.2"/><rect x="362.16" y="813.73" width="1.2" height="1.2"/><rect x="375.78" y="818.15" width="1.2" height="1.2"/><rect x="358.85" y="821.17" width="1.2" height="1.2"/><rect x="371.43" y="817.51" width="1.2" height="1.2"/><rect x="367.14" y="822.19" width="1.2" height="1.2"/><rect x="359.34" y="823.54" width="1.2" height="1.2"/><rect x="365.11" y="816.04" width="1.2" height="1.2"/><rect x="365.53" y="824.8" width="1.2" height="1.2"/><rect x="370.83" y="821.36" width="1.2" height="1.2"/><rect x="372" y="825.03" width="1.2" height="1.2"/><rect x="359.57" y="814.18" width="1.2" height="1.2"/><rect x="364.04" y="825.44" width="1.2" height="1.2"/><rect x="366.7" y="815.61" width="1.2" height="1.2"/><rect x="362.88" y="808.79" width="1.2" height="1.2"/><rect x="355.55" y="821.16" width="1.2" height="1.2"/><rect x="365.33" y="813.78" width="1.2" height="1.2"/><rect x="372.22" y="826.58" width="1.2" height="1.2"/><rect x="360.38" y="820.88" width="1.2" height="1.2"/><rect x="369.59" y="823.05" width="1.2" height="1.2"/><rect x="362.37" y="820.74" width="1.2" height="1.2"/><rect x="375.26" y="819.67" width="1.2" height="1.2"/><rect x="361.99" y="811.51" width="1.2" height="1.2"/><rect x="358.84" y="820.95" width="1.2" height="1.2"/><rect x="375.81" y="820.91" width="1.2" height="1.2"/><rect x="358.15" y="821.66" width="1.2" height="1.2"/><rect x="365.64" y="820.48" width="1.2" height="1.2"/><rect x="361.09" y="825.45" width="1.2" height="1.2"/></g>
<g fill="#8b1c1c" fill-opacity="0.9"><rect x="402.67" y="761.6" width="1.4" height="1.4"/><rect x="401.52" y="763.8" width="1.4" height="1.4"/><rect x="404.23" y="763.97" width="1.4" height="1.4"/><rect x="401.15" y="766.46" width="1.4" height="1.4"/><rect x="404.16" y="766.75" width="1.4" height="1.4"/><rect x="395.3" y="769.02" width="1.4" height="1.4"/><rect x="398.13" y="768.88" width="1.4" height="1.4"/><rect x="401.35" y="769.11" width="1.4" height="1.4"/><rect x="404.17" y="768.88" width="1.4" height="1.4"/><rect x="407.48" y="769.1" width="1.4" height="1.4"/><rect x="410.16" y="768.92" width="1.4" height="1.4"/><rect x="390.93" y="771.24" width="1.4" height="1.4"/><rect x="393.89" y="771.4" width="1.4" height="1.4"/><rect x="397.04" y="771.33" width="1.4" height="1.4"/><rect x="399.89" y="771.21" width="1.4" height="1.4"/><rect x="402.92" y="771.19" width="1.4" height="1.4"/><rect x="405.8" y="771.22" width="1.4" height="1.4"/><rect x="408.7" y="771.08" width="1.4" height="1.4"/><rect x="411.66" y="771.33" width="1.4" height="1.4"/><rect x="414.68" y="771.03" width="1.4" height="1.4"/><rect x="393.95" y="773.57" width="1.4" height="1.4"/><rect x="397.02" y="773.76" width="1.4" height="1.4"/><rect x="399.74" y="773.92" width="1.4" height="1.4"/><rect x="403" y="773.59" width="1.4" height="1.4"/><rect x="405.61" y="773.78" width="1.4" height="1.4"/><rect x="408.97" y="773.77" width="1.4" height="1.4"/><rect x="411.94" y="773.65" width="1.4" height="1.4"/><rect x="396.86" y="775.96" width="1.4" height="1.4"/><rect x="399.75" y="776.03" width="1.4" height="1.4"/><rect x="402.74" y="776.04" width="1.4" height="1.4"/><rect x="405.95" y="775.9" width="1.4" height="1.4"/><rect x="408.65" y="775.95" width="1.4" height="1.4"/><rect x="400.04" y="778.51" width="1.4" height="1.4"/><rect x="402.58" y="778.7" width="1.4" height="1.4"/><rect x="405.99" y="778.69" width="1.4" height="1.4"/><rect x="396.73" y="781.04" width="1.4" height="1.4"/><rect x="399.7" y="780.68" width="1.4" height="1.4"/><rect x="402.98" y="781.1" width="1.4" height="1.4"/><rect x="405.66" y="781.13" width="1.4" height="1.4"/><rect x="408.56" y="780.79" width="1.4" height="1.4"/><rect x="396.56" y="783.1" width="1.4" height="1.4"/><rect x="399.63" y="783.43" width="1.4" height="1.4"/><rect x="402.7" y="783.11" width="1.4" height="1.4"/><rect x="405.64" y="783.19" width="1.4" height="1.4"/><rect x="408.98" y="783.36" width="1.4" height="1.4"/><rect x="401.1" y="785.81" width="1.4" height="1.4"/><rect x="404.32" y="785.67" width="1.4" height="1.4"/><rect x="401.31" y="792.99" width="1.4" height="1.4"/><rect x="404.45" y="792.9" width="1.4" height="1.4"/><rect x="401.37" y="795.28" width="1.4" height="1.4"/><rect x="404.37" y="795.23" width="1.4" height="1.4"/><rect x="398.26" y="797.71" width="1.4" height="1.4"/><rect x="401.41" y="797.57" width="1.4" height="1.4"/><rect x="404.51" y="797.69" width="1.4" height="1.4"/><rect x="407.48" y="797.81" width="1.4" height="1.4"/><rect x="391.03" y="800.21" width="1.4" height="1.4"/><rect x="393.76" y="800.04" width="1.4" height="1.4"/><rect x="396.85" y="800.25" width="1.4" height="1.4"/><rect x="399.97" y="799.88" width="1.4" height="1.4"/><rect x="402.58" y="799.86" width="1.4" height="1.4"/><rect x="405.59" y="799.83" width="1.4" height="1.4"/><rect x="408.55" y="799.95" width="1.4" height="1.4"/><rect x="411.61" y="800.21" width="1.4" height="1.4"/><rect x="414.86" y="800.38" width="1.4" height="1.4"/><rect x="391.03" y="802.65" width="1.4" height="1.4"/><rect x="394.02" y="802.22" width="1.4" height="1.4"/><rect x="396.66" y="802.76" width="1.4" height="1.4"/><rect x="399.79" y="802.32" width="1.4" height="1.4"/><rect x="402.93" y="802.45" width="1.4" height="1.4"/><rect x="405.82" y="802.39" width="1.4" height="1.4"/><rect x="408.67" y="802.25" width="1.4" height="1.4"/><rect x="411.85" y="802.77" width="1.4" height="1.4"/><rect x="415.04" y="802.66" width="1.4" height="1.4"/><rect x="397.02" y="804.82" width="1.4" height="1.4"/><rect x="399.7" y="805.15" width="1.4" height="1.4"/><rect x="402.85" y="805" width="1.4" height="1.4"/><rect x="405.56" y="804.74" width="1.4" height="1.4"/><rect x="408.79" y="805.04" width="1.4" height="1.4"/></g>
<g fill="#000"><rect x="466.79" y="828.34" width="1.2" height="1.2"/><rect x="452.81" y="825.48" width="1.2" height="1.2"/><rect x="450.54" y="831.41" width="1.2" height="1.2"/><rect x="452.43" y="836.29" width="1.2" height="1.2"/><rect x="461.35" y="824.26" width="1.2" height="1.2"/><rect x="453.83" y="833.36" width="1.2" height="1.2"/><rect x="465.82" y="835.03" width="1.2" height="1.2"/><rect x="464.43" y="817.73" width="1.2" height="1.2"/><rect x="466.81" y="823.84" width="1.2" height="1.2"/><rect x="464.66" y="827.83" width="1.2" height="1.2"/><rect x="457.31" y="827.4" width="1.2" height="1.2"/><rect x="450.25" y="831.97" width="1.2" height="1.2"/><rect x="463.21" y="826.48" width="1.2" height="1.2"/><rect x="464.51" y="820.49" width="1.2" height="1.2"/><rect x="451.59" y="828.77" width="1.2" height="1.2"/><rect x="459.41" y="827.01" width="1.2" height="1.2"/><rect x="456.54" y="825.75" width="1.2" height="1.2"/><rect x="458.69" y="831.74" width="1.2" height="1.2"/><rect x="455.88" y="830.71" width="1.2" height="1.2"/><rect x="462.32" y="832.86" width="1.2" height="1.2"/><rect x="468.69" y="818.1" width="1.2" height="1.2"/><rect x="450.8" y="834.16" width="1.2" height="1.2"/><rect x="451.21" y="826" width="1.2" height="1.2"/><rect x="467.22" y="826.13" width="1.2" height="1.2"/><rect x="466.89" y="823.88" width="1.2" height="1.2"/><rect x="463.79" y="828.21" width="1.2" height="1.2"/><rect x="463.93" y="835.32" width="1.2" height="1.2"/><rect x="461.55" y="829.62" width="1.2" height="1.2"/><rect x="464.05" y="827.65" width="1.2" height="1.2"/><rect x="454.27" y="828.66" width="1.2" height="1.2"/><rect x="452.7" y="829.79" width="1.2" height="1.2"/><rect x="462.14" y="828.89" width="1.2" height="1.2"/><rect x="457.53" y="829.52" width="1.2" height="1.2"/><rect x="449.69" y="830.23" width="1.2" height="1.2"/><rect x="454.41" y="832.33" width="1.2" height="1.2"/><rect x="461.1" y="830.48" width="1.2" height="1.2"/><rect x="466.46" y="827.12" width="1.2" height="1.2"/><rect x="455.17" y="831.15" width="1.2" height="1.2"/><rect x="458.32" y="834.76" width="1.2" height="1.2"/><rect x="454.3" y="829.68" width="1.2" height="1.2"/><rect x="464.29" y="822.59" width="1.2" height="1.2"/><rect x="463.06" y="830.43" width="1.2" height="1.2"/><rect x="455.64" y="822.71" width="1.2" height="1.2"/><rect x="454.09" y="835.29" width="1.2" height="1.2"/><rect x="456.59" y="829.91" width="1.2" height="1.2"/><rect x="464.73" y="831.31" width="1.2" height="1.2"/><rect x="451.9" y="836.71" width="1.2" height="1.2"/><rect x="460.13" y="830.66" width="1.2" height="1.2"/><rect x="450.7" y="829.56" width="1.2" height="1.2"/><rect x="450.13" y="827.14" width="1.2" height="1.2"/><rect x="456.38" y="823.67" width="1.2" height="1.2"/><rect x="450.5" y="833.5" width="1.2" height="1.2"/><rect x="469.97" y="823.62" width="1.2" height="1.2"/><rect x="459.69" y="833.13" width="1.2" height="1.2"/><rect x="467.78" y="831.55" width="1.2" height="1.2"/><rect x="450.44" y="827.5" width="1.2" height="1.2"/><rect x="450.98" y="830.59" width="1.2" height="1.2"/><rect x="456" y="837.75" width="1.2" height="1.2"/><rect x="463.84" y="831.3" width="1.2" height="1.2"/><rect x="468.74" y="828.13" width="1.2" height="1.2"/><rect x="460.56" y="833.91" width="1.2" height="1.2"/><rect x="466.58" y="828.64" width="1.2" height="1.2"/><rect x="459.67" y="824.63" width="1.2" height="1.2"/><rect x="459.66" y="824.44" width="1.2" height="1.2"/><rect x="449.56" y="833.44" width="1.2" height="1.2"/><rect x="448.29" y="829.78" width="1.2" height="1.2"/><rect x="467.18" y="834.97" width="1.2" height="1.2"/><rect x="465.88" y="826.96" width="1.2" height="1.2"/><rect x="463.78" y="825.6" width="1.2" height="1.2"/><rect x="464.82" y="825.77" width="1.2" height="1.2"/><rect x="458.25" y="826.19" width="1.2" height="1.2"/><rect x="465.34" y="841.7" width="1.2" height="1.2"/><rect x="453.45" y="831.38" width="1.2" height="1.2"/><rect x="468.78" y="830.52" width="1.2" height="1.2"/><rect x="457" y="834.65" width="1.2" height="1.2"/><rect x="464.82" y="816.66" width="1.2" height="1.2"/><rect x="467.99" y="830.21" width="1.2" height="1.2"/><rect x="451.98" y="834.49" width="1.2" height="1.2"/><rect x="460.55" y="828.18" width="1.2" height="1.2"/><rect x="466.16" y="830.85" width="1.2" height="1.2"/><rect x="454.54" y="834.33" width="1.2" height="1.2"/><rect x="458.83" y="826.21" width="1.2" height="1.2"/><rect x="464.44" y="831.77" width="1.2" height="1.2"/><rect x="457.28" y="828.34" width="1.2" height="1.2"/><rect x="450.84" y="830.89" width="1.2" height="1.2"/><rect x="451.07" y="824.1" width="1.2" height="1.2"/><rect x="453.42" y="822.29" width="1.2" height="1.2"/><rect x="461.34" y="830.46" width="1.2" height="1.2"/><rect x="457.76" y="830.01" width="1.2" height="1.2"/><rect x="455.28" y="830.41" width="1.2" height="1.2"/><rect x="457.25" y="835.81" width="1.2" height="1.2"/><rect x="464.34" y="824.95" width="1.2" height="1.2"/><rect x="466.06" y="837.66" width="1.2" height="1.2"/><rect x="463" y="818.24" width="1.2" height="1.2"/><rect x="453.41" y="828.11" width="1.2" height="1.2"/><rect x="464.01" y="826.32" width="1.2" height="1.2"/><rect x="461.39" y="835.34" width="1.2" height="1.2"/><rect x="465.12" y="832.29" width="1.2" height="1.2"/><rect x="458.88" y="817.61" width="1.2" height="1.2"/><rect x="456.95" y="834.99" width="1.2" height="1.2"/><rect x="455.24" y="813.72" width="1.2" height="1.2"/><rect x="468.23" y="833.54" width="1.2" height="1.2"/><rect x="458.41" y="829.47" width="1.2" height="1.2"/><rect x="466" y="831.52" width="1.2" height="1.2"/><rect x="456.88" y="834.41" width="1.2" height="1.2"/><rect x="464.54" y="830.16" width="1.2" height="1.2"/><rect x="454.94" y="830.93" width="1.2" height="1.2"/><rect x="469.48" y="832.47" width="1.2" height="1.2"/><rect x="452.21" y="833.25" width="1.2" height="1.2"/><rect x="449.61" y="821.64" width="1.2" height="1.2"/><rect x="456.34" y="831.43" width="1.2" height="1.2"/><rect x="451.2" y="831.47" width="1.2" height="1.2"/><rect x="452.83" y="830.13" width="1.2" height="1.2"/><rect x="467.57" y="829.42" width="1.2" height="1.2"/><rect x="465.62" y="829.07" width="1.2" height="1.2"/><rect x="451.1" y="817" width="1.2" height="1.2"/><rect x="459.37" y="827.34" width="1.2" height="1.2"/><rect x="451.54" y="827.5" width="1.2" height="1.2"/><rect x="453.13" y="827.13" width="1.2" height="1.2"/><rect x="460.68" y="832.18" width="1.2" height="1.2"/><rect x="463.77" y="832.93" width="1.2" height="1.2"/><rect x="462.34" y="828.89" width="1.2" height="1.2"/><rect x="453.35" y="836.34" width="1.2" height="1.2"/><rect x="452.56" y="814.91" width="1.2" height="1.2"/><rect x="449.96" y="833.6" width="1.2" height="1.2"/><rect x="460.61" y="832.85" width="1.2" height="1.2"/><rect x="455.1" y="829.85" width="1.2" height="1.2"/><rect x="447.65" y="827.96" width="1.2" height="1.2"/><rect x="465.63" y="824.57" width="1.2" height="1.2"/><rect x="457.71" y="823.97" width="1.2" height="1.2"/><rect x="459.36" y="830.61" width="1.2" height="1.2"/><rect x="451.01" y="830.64" width="1.2" height="1.2"/><rect x="464.59" y="826.77" width="1.2" height="1.2"/><rect x="450.02" y="830.91" width="1.2" height="1.2"/><rect x="468.92" y="825.82" width="1.2" height="1.2"/><rect x="461.14" y="828.53" width="1.2" height="1.2"/><rect x="466.07" y="825.95" width="1.2" height="1.2"/><rect x="456.11" y="830.73" width="1.2" height="1.2"/><rect x="457.3" y="831.31" width="1.2" height="1.2"/><rect x="460.15" y="827.32" width="1.2" height="1.2"/><rect x="460.22" y="832.94" width="1.2" height="1.2"/><rect x="457.55" y="826.32" width="1.2" height="1.2"/><rect x="464.41" y="830.51" width="1.2" height="1.2"/><rect x="460.21" y="816.6" width="1.2" height="1.2"/><rect x="457.42" y="831.51" width="1.2" height="1.2"/><rect x="467.92" y="832.98" width="1.2" height="1.2"/><rect x="457.97" y="827.04" width="1.2" height="1.2"/><rect x="451.21" y="828.32" width="1.2" height="1.2"/><rect x="448.89" y="826.27" width="1.2" height="1.2"/><rect x="465.74" y="832.45" width="1.2" height="1.2"/><rect x="448.48" y="827.03" width="1.2" height="1.2"/><rect x="457.69" y="829.02" width="1.2" height="1.2"/><rect x="467.37" y="827.72" width="1.2" height="1.2"/><rect x="469.27" y="828.14" width="1.2" height="1.2"/><rect x="457.72" y="835.2" width="1.2" height="1.2"/><rect x="459.18" y="821.98" width="1.2" height="1.2"/><rect x="462.05" y="836.48" width="1.2" height="1.2"/><rect x="450.17" y="832.87" width="1.2" height="1.2"/><rect x="458.12" y="837.18" width="1.2" height="1.2"/><rect x="466.33" y="827.62" width="1.2" height="1.2"/><rect x="469.38" y="829.99" width="1.2" height="1.2"/><rect x="465.54" y="826.3" width="1.2" height="1.2"/><rect x="454.26" y="835.12" width="1.2" height="1.2"/><rect x="469.33" y="831" width="1.2" height="1.2"/><rect x="453.22" y="825.61" width="1.2" height="1.2"/><rect x="450.23" y="830.68" width="1.2" height="1.2"/><rect x="451.66" y="834.53" width="1.2" height="1.2"/><rect x="448.88" y="832.27" width="1.2" height="1.2"/><rect x="467.67" y="826.44" width="1.2" height="1.2"/><rect x="470.1" y="826.44" width="1.2" height="1.2"/><rect x="451.56" y="826.97" width="1.2" height="1.2"/><rect x="453.03" y="826.79" width="1.2" height="1.2"/><rect x="460.52" y="831.81" width="1.2" height="1.2"/><rect x="463.91" y="824.98" width="1.2" height="1.2"/><rect x="453.15" y="832.92" width="1.2" height="1.2"/><rect x="457.8" y="834.87" width="1.2" height="1.2"/><rect x="452.91" y="833.55" width="1.2" height="1.2"/><rect x="466.04" y="832.92" width="1.2" height="1.2"/><rect x="452.52" y="829.74" width="1.2" height="1.2"/><rect x="459.76" y="826.55" width="1.2" height="1.2"/><rect x="465.26" y="822.9" width="1.2" height="1.2"/><rect x="457.15" y="830.43" width="1.2" height="1.2"/><rect x="453.73" y="825.35" width="1.2" height="1.2"/><rect x="467.46" y="832.51" width="1.2" height="1.2"/><rect x="450.07" y="837.34" width="1.2" height="1.2"/><rect x="461.59" y="833.75" width="1.2" height="1.2"/><rect x="460.47" y="832.3" width="1.2" height="1.2"/><rect x="458.16" y="821.52" width="1.2" height="1.2"/><rect x="469.25" y="824.91" width="1.2" height="1.2"/><rect x="464.26" y="831.69" width="1.2" height="1.2"/><rect x="466.99" y="835.16" width="1.2" height="1.2"/><rect x="461.05" y="818.59" width="1.2" height="1.2"/><rect x="449.28" y="825.92" width="1.2" height="1.2"/><rect x="463.13" y="834.4" width="1.2" height="1.2"/><rect x="452.06" y="831.92" width="1.2" height="1.2"/><rect x="460.66" y="827.04" width="1.2" height="1.2"/><rect x="469.63" y="833.44" width="1.2" height="1.2"/><rect x="463.04" y="831.39" width="1.2" height="1.2"/><rect x="452.35" y="834.97" width="1.2" height="1.2"/><rect x="461.55" y="832.64" width="1.2" height="1.2"/><rect x="448.07" y="839.18" width="1.2" height="1.2"/><rect x="455.03" y="831.08" width="1.2" height="1.2"/><rect x="457.31" y="830.22" width="1.2" height="1.2"/><rect x="450.62" y="816.41" width="1.2" height="1.2"/><rect x="464.57" y="825.2" width="1.2" height="1.2"/><rect x="462.81" y="831.15" width="1.2" height="1.2"/><rect x="452.26" y="833.4" width="1.2" height="1.2"/><rect x="469.95" y="827.28" width="1.2" height="1.2"/><rect x="467.79" y="831.14" width="1.2" height="1.2"/><rect x="466.62" y="826.69" width="1.2" height="1.2"/><rect x="451.9" y="836.38" width="1.2" height="1.2"/><rect x="469.53" y="823.48" width="1.2" height="1.2"/><rect x="449.96" y="830.19" width="1.2" height="1.2"/><rect x="457.6" y="820.05" width="1.2" height="1.2"/><rect x="457.18" y="829.28" width="1.2" height="1.2"/><rect x="467.14" y="830.02" width="1.2" height="1.2"/><rect x="452.27" y="831.83" width="1.2" height="1.2"/><rect x="451.42" y="829.45" width="1.2" height="1.2"/><rect x="451.89" y="828.47" width="1.2" height="1.2"/><rect x="450.4" y="827.49" width="1.2" height="1.2"/><rect x="457.13" y="834.44" width="1.2" height="1.2"/><rect x="455.88" y="829.6" width="1.2" height="1.2"/><rect x="463.21" y="831.81" width="1.2" height="1.2"/><rect x="449.14" y="833.22" width="1.2" height="1.2"/><rect x="466.36" y="832.32" width="1.2" height="1.2"/><rect x="461.74" y="827.67" width="1.2" height="1.2"/><rect x="459.27" y="827.23" width="1.2" height="1.2"/><rect x="450.03" y="821.01" width="1.2" height="1.2"/><rect x="465.97" y="837.26" width="1.2" height="1.2"/><rect x="449.95" y="817.77" width="1.2" height="1.2"/><rect x="456.55" y="835.46" width="1.2" height="1.2"/><rect x="459.35" y="835.42" width="1.2" height="1.2"/><rect x="457.74" y="823.95" width="1.2" height="1.2"/><rect x="455.89" y="827.6" width="1.2" height="1.2"/><rect x="469.41" y="829.02" width="1.2" height="1.2"/><rect x="454.09" y="837.21" width="1.2" height="1.2"/><rect x="451.73" y="832.34" width="1.2" height="1.2"/><rect x="449.55" y="828.38" width="1.2" height="1.2"/><rect x="468.6" y="831.09" width="1.2" height="1.2"/><rect x="454.22" y="835.69" width="1.2" height="1.2"/><rect x="460.56" y="832.03" width="1.2" height="1.2"/><rect x="455.54" y="830.79" width="1.2" height="1.2"/><rect x="451.61" y="833.27" width="1.2" height="1.2"/><rect x="449.18" y="830.84" width="1.2" height="1.2"/><rect x="451.49" y="827.12" width="1.2" height="1.2"/><rect x="464.77" y="830.88" width="1.2" height="1.2"/><rect x="459.84" y="826.5" width="1.2" height="1.2"/><rect x="449.41" y="829.8" width="1.2" height="1.2"/><rect x="465.34" y="827.72" width="1.2" height="1.2"/><rect x="454.24" y="828.16" width="1.2" height="1.2"/><rect x="468.04" y="820.22" width="1.2" height="1.2"/><rect x="461.23" y="829.32" width="1.2" height="1.2"/><rect x="457.6" y="834.19" width="1.2" height="1.2"/><rect x="465.05" y="825.97" width="1.2" height="1.2"/><rect x="459.53" y="816.5" width="1.2" height="1.2"/><rect x="454.76" y="826.12" width="1.2" height="1.2"/><rect x="460.09" y="835.16" width="1.2" height="1.2"/><rect x="452.32" y="837.19" width="1.2" height="1.2"/><rect x="464.76" y="832.95" width="1.2" height="1.2"/><rect x="457.25" y="823.85" width="1.2" height="1.2"/><rect x="448.74" y="818.59" width="1.2" height="1.2"/><rect x="459.05" y="833.88" width="1.2" height="1.2"/><rect x="455.1" y="829.48" width="1.2" height="1.2"/><rect x="468.29" y="821.37" width="1.2" height="1.2"/><rect x="454.49" y="826.44" width="1.2" height="1.2"/><rect x="465.34" y="832.58" width="1.2" height="1.2"/><rect x="458.04" y="829.82" width="1.2" height="1.2"/><rect x="447.68" y="822.74" width="1.2" height="1.2"/><rect x="459.03" y="836.98" width="1.2" height="1.2"/><rect x="454.34" y="825.84" width="1.2" height="1.2"/><rect x="463.22" y="827.07" width="1.2" height="1.2"/><rect x="456.39" y="828.6" width="1.2" height="1.2"/><rect x="465.28" y="826.93" width="1.2" height="1.2"/><rect x="459.39" y="820.58" width="1.2" height="1.2"/><rect x="455.31" y="834.76" width="1.2" height="1.2"/><rect x="448.55" y="833.77" width="1.2" height="1.2"/><rect x="461.67" y="822.01" width="1.2" height="1.2"/><rect x="452.33" y="835.53" width="1.2" height="1.2"/><rect x="451.58" y="829.83" width="1.2" height="1.2"/><rect x="467.9" y="831.78" width="1.2" height="1.2"/></g>
<g fill="#8b1c1c" fill-opacity="0.9"><rect x="496.82" y="792.36" width="1.4" height="1.4"/><rect x="495" y="794.71" width="1.4" height="1.4"/><rect x="498.16" y="794.88" width="1.4" height="1.4"/><rect x="490.48" y="797.23" width="1.4" height="1.4"/><rect x="493.37" y="797.19" width="1.4" height="1.4"/><rect x="496.84" y="797.35" width="1.4" height="1.4"/><rect x="499.49" y="797.56" width="1.4" height="1.4"/><rect x="502.53" y="797.15" width="1.4" height="1.4"/><rect x="490.37" y="799.49" width="1.4" height="1.4"/><rect x="493.45" y="799.54" width="1.4" height="1.4"/><rect x="496.79" y="799.56" width="1.4" height="1.4"/><rect x="499.47" y="799.76" width="1.4" height="1.4"/><rect x="502.81" y="799.57" width="1.4" height="1.4"/><rect x="492.23" y="802.02" width="1.4" height="1.4"/><rect x="495.13" y="802.16" width="1.4" height="1.4"/><rect x="498.32" y="802.25" width="1.4" height="1.4"/><rect x="501.1" y="802.3" width="1.4" height="1.4"/><rect x="487.53" y="804.43" width="1.4" height="1.4"/><rect x="490.83" y="804.53" width="1.4" height="1.4"/><rect x="493.74" y="804.39" width="1.4" height="1.4"/><rect x="496.81" y="804.57" width="1.4" height="1.4"/><rect x="499.47" y="804.76" width="1.4" height="1.4"/><rect x="502.58" y="804.4" width="1.4" height="1.4"/><rect x="505.48" y="804.26" width="1.4" height="1.4"/><rect x="484.45" y="807.02" width="1.4" height="1.4"/><rect x="487.42" y="806.76" width="1.4" height="1.4"/><rect x="490.57" y="806.93" width="1.4" height="1.4"/><rect x="493.54" y="807.07" width="1.4" height="1.4"/><rect x="496.48" y="806.82" width="1.4" height="1.4"/><rect x="499.56" y="806.68" width="1.4" height="1.4"/><rect x="502.46" y="806.69" width="1.4" height="1.4"/><rect x="505.71" y="806.69" width="1.4" height="1.4"/><rect x="508.68" y="806.73" width="1.4" height="1.4"/><rect x="484.67" y="809.39" width="1.4" height="1.4"/><rect x="487.53" y="809.56" width="1.4" height="1.4"/><rect x="490.68" y="809.33" width="1.4" height="1.4"/><rect x="493.37" y="809.24" width="1.4" height="1.4"/><rect x="496.48" y="809.28" width="1.4" height="1.4"/><rect x="499.82" y="809.52" width="1.4" height="1.4"/><rect x="502.38" y="809.41" width="1.4" height="1.4"/><rect x="505.82" y="809.33" width="1.4" height="1.4"/><rect x="508.4" y="809.52" width="1.4" height="1.4"/><rect x="484.56" y="811.99" width="1.4" height="1.4"/><rect x="487.79" y="811.9" width="1.4" height="1.4"/><rect x="490.82" y="811.44" width="1.4" height="1.4"/><rect x="493.75" y="811.58" width="1.4" height="1.4"/><rect x="496.42" y="811.63" width="1.4" height="1.4"/><rect x="499.64" y="811.4" width="1.4" height="1.4"/><rect x="502.57" y="811.87" width="1.4" height="1.4"/><rect x="505.6" y="811.72" width="1.4" height="1.4"/><rect x="508.5" y="811.98" width="1.4" height="1.4"/><rect x="488.97" y="814.21" width="1.4" height="1.4"/><rect x="492.17" y="813.8" width="1.4" height="1.4"/><rect x="495.35" y="813.94" width="1.4" height="1.4"/><rect x="498.34" y="814.36" width="1.4" height="1.4"/><rect x="501.3" y="814.31" width="1.4" height="1.4"/><rect x="504.05" y="814.07" width="1.4" height="1.4"/><rect x="489.02" y="816.76" width="1.4" height="1.4"/><rect x="491.86" y="816.28" width="1.4" height="1.4"/><rect x="495.33" y="816.68" width="1.4" height="1.4"/><rect x="498.2" y="816.78" width="1.4" height="1.4"/><rect x="501.11" y="816.7" width="1.4" height="1.4"/><rect x="504.07" y="816.74" width="1.4" height="1.4"/><rect x="488.88" y="818.86" width="1.4" height="1.4"/><rect x="492.14" y="819.08" width="1.4" height="1.4"/><rect x="495.06" y="819.01" width="1.4" height="1.4"/><rect x="498.33" y="818.85" width="1.4" height="1.4"/><rect x="500.95" y="818.62" width="1.4" height="1.4"/><rect x="504.28" y="818.89" width="1.4" height="1.4"/><rect x="495.04" y="821.31" width="1.4" height="1.4"/><rect x="497.91" y="821.13" width="1.4" height="1.4"/><rect x="496.47" y="823.55" width="1.4" height="1.4"/></g>
<line x1="352.8" y1="823.2" x2="377.2" y2="823.2" stroke="#000" stroke-width="1.6"/>
<line x1="447" y1="830.2" x2="471.3" y2="830.2" stroke="#000" stroke-width="1.6"/>
<line x1="403.5" y1="771.6" x2="403.5" y2="797.4" stroke="#6a5a58" stroke-width="1"/>
<line x1="397.5" y1="771.6" x2="409.5" y2="771.6" stroke="#6a5a58" stroke-width="1"/>
<line x1="397.5" y1="797.4" x2="409.5" y2="797.4" stroke="#6a5a58" stroke-width="1"/>
<line x1="497.3" y1="801.6" x2="497.3" y2="817.8" stroke="#6a5a58" stroke-width="1"/>
<line x1="491.3" y1="801.6" x2="503.3" y2="801.6" stroke="#6a5a58" stroke-width="1"/>
<line x1="491.3" y1="817.8" x2="503.3" y2="817.8" stroke="#6a5a58" stroke-width="1"/>
<path d="M364.5 795.5 V741.2 H403.8 V747.6" fill="none" stroke="#888" stroke-width="1.3"/>
<path d="M459.0 812.4 V776.3 H498.4 V782.6" fill="none" stroke="#888" stroke-width="1.3"/>
<text x="386.1" y="741" font-size="11.5" text-anchor="middle" font-weight="normal" fill="#000">*</text>
<text x="478.2" y="776.3" font-size="11.5" text-anchor="middle" font-weight="normal" fill="#000">*</text>
<text x="384" y="878.8" font-size="12" text-anchor="middle" font-weight="normal" fill="#000">APD90</text>
<text x="477.6" y="878.8" font-size="12" text-anchor="middle" font-weight="normal" fill="#000">APD50</text>
<rect x="513.7" y="727" width="15.1" height="9" fill="#fff" stroke="#000" stroke-width="1.2"/>
<text x="534.6" y="735.9" font-size="12" text-anchor="start" font-weight="normal" fill="#000">Control</text>
<rect x="513.7" y="745.8" width="15.1" height="9" fill="#a86464" stroke="#8b1c1c" stroke-width="1.2"/>
<text x="534.6" y="754.8" font-size="12" text-anchor="start" font-weight="normal" fill="#000">15 nM E4301</text>
</svg>
</body></html>
